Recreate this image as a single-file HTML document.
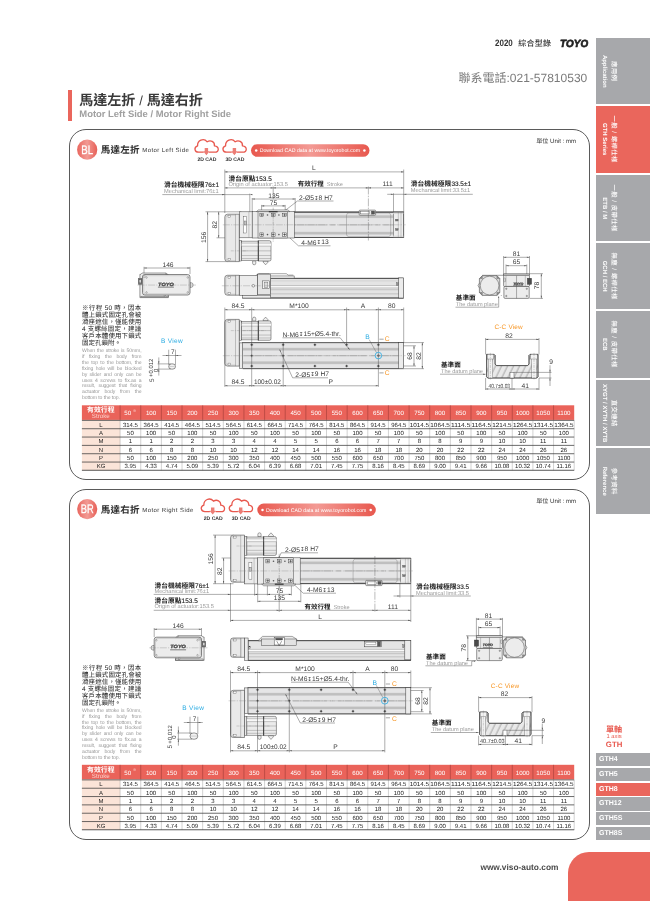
<!DOCTYPE html><html lang="zh-Hant"><head><meta charset="utf-8"><title>馬達左折 / 馬達右折</title><style>
*{margin:0;padding:0;box-sizing:border-box}
html,body{width:650px;height:901px;background:#fff;overflow:hidden}
body{position:relative;-webkit-font-smoothing:antialiased;text-rendering:geometricPrecision;font-family:"Liberation Sans","Noto Sans CJK TC",sans-serif;color:#333}
.abs{position:absolute;white-space:nowrap}
.panel{position:absolute;left:68.5px;width:521.5px;height:351px;border:1px solid #5a5a5a;border-radius:17px;background:#fff}
.sb{position:absolute;left:595.8px;width:55px;background:#a7a8ab}
.sb.red{background:#ea665c}
.sbt{position:absolute;white-space:nowrap;color:#fff;transform-origin:0 0;transform:rotate(90deg);text-align:center;line-height:1}
.g{position:absolute;left:595.8px;width:55px;height:13.1px;background:#a7a8ab;color:#fff;font-weight:bold;font-size:7.0px;line-height:13.4px;padding-left:3.3px}
.g.red{background:#ea665c}
.note-c{position:absolute;left:82px;width:59.3px;font-size:6.5px;line-height:7.05px;font-weight:400;color:#1a1a1a;text-align:justify;text-align-last:justify;font-family:"Liberation Sans","Noto Sans CJK TC",sans-serif}
.note-e{position:absolute;left:82px;width:59.5px;font-size:5.1px;line-height:5.88px;color:#9a9a9a;text-align:justify;letter-spacing:-0.1px}
.note-e div,.note-c div{text-align:justify;text-align-last:justify;white-space:nowrap}
.note-e div.l,.note-c div.l{text-align-last:left}
</style></head><body><div id="pg" style="position:absolute;left:0;top:0;width:650px;height:901px;overflow:hidden;will-change:transform;transform:translateZ(0)">
<div class="abs" style="left:495.3px;top:37.6px;font-size:9.2px;font-weight:bold;color:#333;line-height:10px;transform-origin:0 50%;transform:scaleX(0.87)">2020</div>
<div class="abs" style="left:518.2px;top:37.6px;font-size:8px;font-weight:500;color:#333;line-height:12px;letter-spacing:0.3px">綜合型錄</div>
<div class="abs" style="left:559.8px;top:38.6px;font-size:10.4px;font-weight:bold;font-style:italic;color:#222;line-height:12px;letter-spacing:0.2px;transform-origin:0 50%;transform:scaleX(0.945);-webkit-text-stroke:0.7px #222">TOYO</div>
<div class="abs" style="left:458.5px;top:68.5px;font-size:12px;color:#7a7a7a;line-height:18px">聯系電話:021-57810530</div>
<div class="abs" style="left:68.3px;top:90px;width:3.4px;height:30.6px;background:#ea665c"></div>
<div class="abs" style="left:79.3px;top:89.8px;font-size:14.0px;font-weight:bold;color:#3a3a3a;line-height:20px">馬達左折 <span style="font-size:13px;font-weight:normal;position:relative;top:-0.3px">/</span> 馬達右折</div>
<div class="abs" style="left:79.3px;top:108.1px;font-size:9.43px;font-weight:bold;color:#a0a0a0;line-height:12px">Motor Left Side / Motor Right Side</div>
<div class="sb" style="top:38.00px;height:66.45px"></div>
<div class="sbt" style="left:617.3px;top:38.00px;width:66.45px;font-size:6.35px;letter-spacing:0.45px;height:8px;line-height:8px;font-weight:500">應用例</div>
<div class="sbt" style="left:607.4px;top:38.00px;width:66.45px;font-size:6px;height:7px;line-height:7px;font-weight:bold">Application</div>
<div class="sb red" style="top:106.33px;height:66.45px"></div>
<div class="sbt" style="left:617.3px;top:106.33px;width:66.45px;font-size:6.35px;letter-spacing:0.45px;height:8px;line-height:8px;font-weight:500">一般 / 螺桿仕樣</div>
<div class="sbt" style="left:607.4px;top:106.33px;width:66.45px;font-size:6px;height:7px;line-height:7px;font-weight:bold">GTH Series</div>
<div class="sb" style="top:174.66px;height:66.45px"></div>
<div class="sbt" style="left:617.3px;top:174.66px;width:66.45px;font-size:6.35px;letter-spacing:0.45px;height:8px;line-height:8px;font-weight:500">一般 / 皮帶仕樣</div>
<div class="sbt" style="left:607.4px;top:174.66px;width:66.45px;font-size:6px;height:7px;line-height:7px;font-weight:bold">ETB / M</div>
<div class="sb" style="top:242.99px;height:66.45px"></div>
<div class="sbt" style="left:617.3px;top:242.99px;width:66.45px;font-size:6.35px;letter-spacing:0.45px;height:8px;line-height:8px;font-weight:500">無塵 / 螺桿仕樣</div>
<div class="sbt" style="left:607.4px;top:242.99px;width:66.45px;font-size:6px;height:7px;line-height:7px;font-weight:bold">GCH / ECH</div>
<div class="sb" style="top:311.32px;height:66.45px"></div>
<div class="sbt" style="left:617.3px;top:311.32px;width:66.45px;font-size:6.35px;letter-spacing:0.45px;height:8px;line-height:8px;font-weight:500">無塵 / 皮帶仕樣</div>
<div class="sbt" style="left:607.4px;top:311.32px;width:66.45px;font-size:6px;height:7px;line-height:7px;font-weight:bold">ECB</div>
<div class="sb" style="top:379.65px;height:66.45px"></div>
<div class="sbt" style="left:617.3px;top:379.65px;width:66.45px;font-size:6.35px;letter-spacing:0.45px;height:8px;line-height:8px;font-weight:500">直交連結</div>
<div class="sbt" style="left:607.4px;top:379.65px;width:66.45px;font-size:6px;height:7px;line-height:7px;font-weight:bold">XYGT / XYTH / XYTB</div>
<div class="sb" style="top:447.98px;height:66.45px"></div>
<div class="sbt" style="left:617.3px;top:447.98px;width:66.45px;font-size:6.35px;letter-spacing:0.45px;height:8px;line-height:8px;font-weight:500">參考資料</div>
<div class="sbt" style="left:607.4px;top:447.98px;width:66.45px;font-size:6px;height:7px;line-height:7px;font-weight:bold">Reference</div>
<div class="abs" style="left:595.8px;width:36.5px;top:725.4px;text-align:center;color:#e8584e;font-weight:bold;font-size:8.1px;line-height:10px">單軸</div>
<div class="abs" style="left:595.8px;width:36.5px;top:733px;text-align:center;color:#e8584e;font-size:5.8px;line-height:8px">1 axis</div>
<div class="abs" style="left:595.8px;width:36.5px;top:739.8px;text-align:center;color:#e8584e;font-weight:bold;font-size:7.8px;line-height:10px">GTH</div>
<div class="g" style="top:753.30px">GTH4</div>
<div class="g" style="top:768.02px">GTH5</div>
<div class="g red" style="top:782.74px">GTH8</div>
<div class="g" style="top:797.46px">GTH12</div>
<div class="g" style="top:812.18px">GTH5S</div>
<div class="g" style="top:826.90px">GTH8S</div>
<div class="abs" style="left:568.3px;top:852px;width:90px;height:60px;background:#ea665c;border-top-left-radius:21px"></div>
<div class="abs" style="left:480.4px;top:861.6px;font-size:8.35px;font-weight:bold;color:#4a4a4a;line-height:10px">www.viso-auto.com</div>
<div class="panel" style="top:128.8px"></div>
<div class="panel" style="top:488.8px"></div>
<div class="note-c" style="top:305.2px"><div>※行程 50 時，因本</div><div>體上鎖式固定孔會被</div><div>滑座遮住，僅能使用</div><div>4 支螺絲固定，建議</div><div>客戶本體使用下鎖式</div><div class="l">固定孔鎖附。</div></div>
<div class="note-e" style="top:349.2px"><div>When the stroke is 50mm,</div><div>if fixing the body from</div><div>the top to the bottom, the</div><div>fixing hole will be blocked</div><div>by slider and only can be</div><div>uses 4 screws to fix.as a</div><div>result, suggest that fixing</div><div>actuator body from the</div><div class="l">bottom to the top.</div></div>
<div class="note-c" style="top:664.8px"><div>※行程 50 時，因本</div><div>體上鎖式固定孔會被</div><div>滑座遮住，僅能使用</div><div>4 支螺絲固定，建議</div><div>客戶本體使用下鎖式</div><div class="l">固定孔鎖附。</div></div>
<div class="note-e" style="top:708.8px"><div>When the stroke is 50mm,</div><div>if fixing the body from</div><div>the top to the bottom, the</div><div>fixing hole will be blocked</div><div>by slider and only can be</div><div>uses 4 screws to fix.as a</div><div>result, suggest that fixing</div><div>actuator body from the</div><div class="l">bottom to the top.</div></div>
<svg width="650" height="901" viewBox="0 0 650 901" style="position:absolute;left:0;top:0" text-rendering="geometricPrecision" font-family="'Liberation Sans','Noto Sans CJK TC',sans-serif">
<defs><linearGradient id="gcirc" x1="0" x2="1" y1="0" y2="0"><stop offset="0" stop-color="#e9665e"/><stop offset="0.5" stop-color="#f29a94"/><stop offset="1" stop-color="#e75f56"/></linearGradient><linearGradient id="gpill" x1="0" x2="1" y1="0" y2="0"><stop offset="0" stop-color="#e8584e"/><stop offset="0.5" stop-color="#f39a94"/><stop offset="1" stop-color="#e8584e"/></linearGradient></defs>
<circle cx="87.2" cy="149.70" r="10.1" fill="url(#gcirc)"/>
<text x="87.20" y="154.00" font-size="12.30" text-anchor="middle" font-weight="normal" fill="#fff" textLength="11.8" lengthAdjust="spacingAndGlyphs" stroke="#fff" stroke-width="0.25">BL</text>
<text x="100.80" y="153.20" font-size="9.50" text-anchor="start" font-weight="bold" fill="#2a2a2a" letter-spacing="0.25" >馬達左折</text>
<text x="142.30" y="152.30" font-size="6.00" text-anchor="start" font-weight="normal" fill="#333" letter-spacing="0.42" >Motor Left Side</text>
<path d="M203.20 152.20 H198.60 C194.60 152.20 193.40 147.20 197.60 145.80 C197.20 140.40 203.60 137.40 207.20 141.80 C210.40 139.60 215.00 141.60 214.40 145.80 C219.60 146.40 219.40 152.20 214.60 152.20 H209.60" fill="none" stroke="#e8584e" stroke-width="1.30" stroke-linejoin="round" stroke-linecap="round"/>
<path d="M204.70 148.00 h3.4 v3.3 h1.5 l-3.2 3.9 l-3.2 -3.9 h1.5 z" fill="#ec7d75"/>
<text x="206.90" y="160.60" font-size="5.10" text-anchor="middle" font-weight="bold" fill="#333" >2D CAD</text>
<path d="M231.20 152.20 H226.60 C222.60 152.20 221.40 147.20 225.60 145.80 C225.20 140.40 231.60 137.40 235.20 141.80 C238.40 139.60 243.00 141.60 242.40 145.80 C247.60 146.40 247.40 152.20 242.60 152.20 H237.60" fill="none" stroke="#e8584e" stroke-width="1.30" stroke-linejoin="round" stroke-linecap="round"/>
<path d="M232.70 148.00 h3.4 v3.3 h1.5 l-3.2 3.9 l-3.2 -3.9 h1.5 z" fill="#ec7d75"/>
<text x="234.90" y="160.60" font-size="5.10" text-anchor="middle" font-weight="bold" fill="#333" >3D CAD</text>
<rect x="251.00" y="144.20" width="118.5" height="12.6" rx="6.3" fill="url(#gpill)"/>
<circle cx="256.20" cy="150.50" r="1.25" fill="#fff" stroke="none" stroke-width="0.00"/>
<circle cx="364.40" cy="150.50" r="1.25" fill="#fff" stroke="none" stroke-width="0.00"/>
<text x="309.90" y="152.30" font-size="5.25" text-anchor="middle" font-weight="normal" fill="#fff" textLength="100.5" lengthAdjust="spacingAndGlyphs">Download CAD data at www.toyorobot.com</text>
<text x="576.20" y="143.30" font-size="6.10" text-anchor="end" font-weight="normal" fill="#333" >單位 Unit : mm</text>
<line x1="224.80" y1="169.50" x2="224.80" y2="213.00" stroke="#4a4a4a" stroke-width="0.45"/>
<line x1="403.70" y1="169.50" x2="403.70" y2="212.00" stroke="#4a4a4a" stroke-width="0.45"/>
<line x1="224.80" y1="171.90" x2="403.70" y2="171.90" stroke="#4a4a4a" stroke-width="0.45"/>
<polygon points="224.80,171.90 227.40,171.35 227.40,172.45" fill="#4a4a4a"/>
<polygon points="403.70,171.90 401.10,172.45 401.10,171.35" fill="#4a4a4a"/>
<text x="313.80" y="170.40" font-size="6.70" text-anchor="middle" font-weight="normal" fill="#3a3a3a" >L</text>
<line x1="224.80" y1="187.90" x2="403.70" y2="187.90" stroke="#4a4a4a" stroke-width="0.45"/>
<polygon points="224.80,187.90 227.40,187.35 227.40,188.45" fill="#4a4a4a"/>
<polygon points="273.20,187.90 270.60,188.45 270.60,187.35" fill="#4a4a4a"/>
<polygon points="273.20,187.90 275.80,187.35 275.80,188.45" fill="#4a4a4a"/>
<polygon points="368.40,187.90 365.80,188.45 365.80,187.35" fill="#4a4a4a"/>
<polygon points="368.40,187.90 371.00,187.35 371.00,188.45" fill="#4a4a4a"/>
<polygon points="403.70,187.90 401.10,188.45 401.10,187.35" fill="#4a4a4a"/>
<line x1="273.20" y1="186.50" x2="273.20" y2="199.00" stroke="#4a4a4a" stroke-width="0.45"/>
<text x="228.40" y="180.70" font-size="6.75" text-anchor="start" font-weight="bold" fill="#222" >滑台原點<tspan font-size="6.45" font-weight="normal" stroke="#222" stroke-width="0.12" dx="0.2">153.5</tspan></text>
<text x="228.40" y="185.90" font-size="5.70" text-anchor="start" font-weight="normal" fill="#9a9a9a" >Origin of actuator:153.5</text>
<text x="297.80" y="186.00" font-size="6.50" text-anchor="start" font-weight="bold" fill="#222" >有效行程</text>
<text x="326.80" y="186.00" font-size="5.55" text-anchor="start" font-weight="normal" fill="#9a9a9a" >Stroke</text>
<text x="387.60" y="185.90" font-size="6.70" text-anchor="middle" font-weight="normal" fill="#3a3a3a" >111</text>
<text x="164.00" y="186.70" font-size="6.75" text-anchor="start" font-weight="bold" fill="#222" >滑台機械極限<tspan font-size="6.45" font-weight="normal" stroke="#222" stroke-width="0.12" dx="0.2">76±1</tspan></text>
<text x="164.00" y="192.80" font-size="5.70" text-anchor="start" font-weight="normal" fill="#9a9a9a" >Mechanical limit:76±1</text>
<line x1="162.30" y1="194.60" x2="249.80" y2="194.60" stroke="#4a4a4a" stroke-width="0.45"/>
<polygon points="224.80,194.60 222.20,195.15 222.20,194.05" fill="#4a4a4a"/>
<polygon points="249.80,194.60 252.40,194.05 252.40,195.15" fill="#4a4a4a"/>
<line x1="249.80" y1="193.60" x2="249.80" y2="236.00" stroke="#4a4a4a" stroke-width="0.45"/>
<text x="410.70" y="186.20" font-size="6.75" text-anchor="start" font-weight="bold" fill="#222" >滑台機械極限<tspan font-size="6.45" font-weight="normal" stroke="#222" stroke-width="0.12" dx="0.2">33.5±1</tspan></text>
<text x="410.70" y="192.30" font-size="5.70" text-anchor="start" font-weight="normal" fill="#9a9a9a" >Mechanical limit:33.5±1</text>
<line x1="387.20" y1="194.30" x2="472.80" y2="194.30" stroke="#4a4a4a" stroke-width="0.45"/>
<polygon points="393.50,194.30 390.90,194.85 390.90,193.75" fill="#4a4a4a"/>
<polygon points="403.70,194.30 406.30,193.75 406.30,194.85" fill="#4a4a4a"/>
<line x1="393.50" y1="193.30" x2="393.50" y2="213.00" stroke="#4a4a4a" stroke-width="0.45"/>
<text x="273.80" y="198.00" font-size="6.70" text-anchor="middle" font-weight="normal" fill="#3a3a3a" >135</text>
<line x1="252.20" y1="199.00" x2="295.20" y2="199.00" stroke="#4a4a4a" stroke-width="0.45"/>
<polygon points="252.20,199.00 254.80,198.45 254.80,199.55" fill="#4a4a4a"/>
<polygon points="295.20,199.00 292.60,199.55 292.60,198.45" fill="#4a4a4a"/>
<line x1="252.20" y1="198.00" x2="252.20" y2="236.00" stroke="#4a4a4a" stroke-width="0.45"/>
<line x1="295.20" y1="198.00" x2="295.20" y2="213.00" stroke="#4a4a4a" stroke-width="0.45"/>
<text x="273.60" y="204.90" font-size="6.70" text-anchor="middle" font-weight="normal" fill="#3a3a3a" >75</text>
<line x1="261.60" y1="205.90" x2="285.20" y2="205.90" stroke="#4a4a4a" stroke-width="0.45"/>
<polygon points="261.60,205.90 264.20,205.35 264.20,206.45" fill="#4a4a4a"/>
<polygon points="285.20,205.90 282.60,206.45 282.60,205.35" fill="#4a4a4a"/>
<line x1="261.60" y1="204.90" x2="261.60" y2="214.00" stroke="#4a4a4a" stroke-width="0.45"/>
<line x1="285.20" y1="204.90" x2="285.20" y2="214.00" stroke="#4a4a4a" stroke-width="0.45"/>
<text x="299.00" y="199.70" font-size="6.70" text-anchor="start" font-weight="normal" fill="#3a3a3a" >2-Ø5<tspan font-family="'DejaVu Sans',sans-serif" font-size="5.6" dy="-0.2">↧</tspan><tspan dy="0.2"></tspan>8 H7</text>
<line x1="297.40" y1="201.00" x2="333.50" y2="201.00" stroke="#4a4a4a" stroke-width="0.45"/>
<line x1="297.40" y1="201.00" x2="276.00" y2="217.60" stroke="#4a4a4a" stroke-width="0.45"/>
<polygon points="276.00,217.60 277.46,215.90 278.01,216.61" fill="#4a4a4a"/>
<text x="301.30" y="244.60" font-size="6.70" text-anchor="start" font-weight="normal" fill="#3a3a3a" >4-M6<tspan font-family="'DejaVu Sans',sans-serif" font-size="5.6" dy="-0.2">↧</tspan><tspan dy="0.2"></tspan>13</text>
<line x1="298.40" y1="245.80" x2="330.50" y2="245.80" stroke="#4a4a4a" stroke-width="0.45"/>
<line x1="298.40" y1="245.80" x2="284.60" y2="233.00" stroke="#4a4a4a" stroke-width="0.45"/>
<polygon points="284.60,233.00 286.52,234.17 285.91,234.83" fill="#4a4a4a"/>
<line x1="216.50" y1="211.80" x2="241.30" y2="211.80" stroke="#4a4a4a" stroke-width="0.45"/>
<line x1="216.50" y1="237.80" x2="225.80" y2="237.80" stroke="#4a4a4a" stroke-width="0.45"/>
<line x1="218.70" y1="211.80" x2="218.70" y2="237.80" stroke="#4a4a4a" stroke-width="0.45"/>
<polygon points="218.70,211.80 219.25,214.40 218.15,214.40" fill="#4a4a4a"/>
<polygon points="218.70,237.80 218.15,235.20 219.25,235.20" fill="#4a4a4a"/>
<text x="216.60" y="224.80" font-size="6.70" text-anchor="middle" font-weight="normal" fill="#3a3a3a" transform="rotate(-90 216.60 224.80)" >82</text>
<line x1="205.50" y1="211.80" x2="216.50" y2="211.80" stroke="#4a4a4a" stroke-width="0.45"/>
<line x1="205.50" y1="261.60" x2="227.80" y2="261.60" stroke="#4a4a4a" stroke-width="0.45"/>
<line x1="207.60" y1="211.80" x2="207.60" y2="261.60" stroke="#4a4a4a" stroke-width="0.45"/>
<polygon points="207.60,211.80 208.15,214.40 207.05,214.40" fill="#4a4a4a"/>
<polygon points="207.60,261.60 207.05,259.00 208.15,259.00" fill="#4a4a4a"/>
<text x="205.70" y="237.40" font-size="6.70" text-anchor="middle" font-weight="normal" fill="#3a3a3a" transform="rotate(-90 205.70 237.40)" >156</text>
<rect x="293.30" y="212.10" width="110.40" height="25.40" fill="#e5e5e6" stroke="#3a3a3a" stroke-width="0.50"/>
<rect x="293.30" y="215.67" width="110.40" height="2.00" fill="#c2c2c2" stroke="none" stroke-width="0.00"/>
<line x1="293.30" y1="215.67" x2="403.70" y2="215.67" stroke="#999" stroke-width="0.25"/>
<line x1="293.30" y1="217.67" x2="403.70" y2="217.67" stroke="#999" stroke-width="0.25"/>
<rect x="293.30" y="232.18" width="110.40" height="2.00" fill="#c2c2c2" stroke="none" stroke-width="0.00"/>
<line x1="293.30" y1="232.18" x2="403.70" y2="232.18" stroke="#999" stroke-width="0.25"/>
<line x1="293.30" y1="234.18" x2="403.70" y2="234.18" stroke="#999" stroke-width="0.25"/>
<line x1="293.30" y1="224.80" x2="403.70" y2="224.80" stroke="#c4c4c4" stroke-width="1.20" stroke-dasharray="34 3 5 3"/>
<line x1="293.30" y1="212.10" x2="403.70" y2="212.10" stroke="#505050" stroke-width="0.80"/>
<line x1="293.30" y1="237.50" x2="403.70" y2="237.50" stroke="#505050" stroke-width="0.80"/>
<rect x="346.50" y="213.00" width="44.20" height="23.60" fill="none" stroke="#777" stroke-width="0.40" rx="2.40"/>
<rect x="393.30" y="212.10" width="10.40" height="25.40" fill="#eeeeee" stroke="#3a3a3a" stroke-width="0.45"/>
<rect x="393.30" y="212.10" width="10.40" height="1.90" fill="#dcdcdc" stroke="none" stroke-width="0.00"/>
<rect x="393.30" y="235.60" width="10.40" height="1.90" fill="#dcdcdc" stroke="none" stroke-width="0.00"/>
<line x1="398.30" y1="212.10" x2="398.30" y2="237.50" stroke="#777" stroke-width="0.35"/>
<line x1="401.00" y1="212.10" x2="401.00" y2="237.50" stroke="#777" stroke-width="0.35"/>
<rect x="395.50" y="219.20" width="2.60" height="1.80" fill="#777" stroke="#444" stroke-width="0.30"/>
<rect x="395.50" y="228.60" width="2.60" height="1.80" fill="#777" stroke="#444" stroke-width="0.30"/>
<line x1="294.30" y1="212.10" x2="403.70" y2="212.10" stroke="#505050" stroke-width="0.80"/>
<line x1="294.30" y1="237.50" x2="403.70" y2="237.50" stroke="#505050" stroke-width="0.80"/>
<line x1="403.70" y1="211.80" x2="403.70" y2="237.80" stroke="#444" stroke-width="0.50"/>
<rect x="359.20" y="210.10" width="16.40" height="5.20" fill="#e8e8e8" stroke="#3a3a3a" stroke-width="0.50" rx="0.80"/>
<rect x="360.80" y="211.60" width="8.80" height="2.30" fill="#fff" stroke="#3a3a3a" stroke-width="0.35"/>
<rect x="371.40" y="211.10" width="3.20" height="3.00" fill="#555" stroke="#3a3a3a" stroke-width="0.30"/>
<rect x="239.30" y="211.80" width="12.90" height="26.00" fill="#ececec" stroke="#3a3a3a" stroke-width="0.50"/>
<rect x="243.70" y="216.60" width="3.00" height="16.40" fill="#fff" stroke="#3a3a3a" stroke-width="0.35"/>
<rect x="244.30" y="221.00" width="1.80" height="4.00" fill="#ccc" stroke="#3a3a3a" stroke-width="0.30"/>
<line x1="248.90" y1="211.80" x2="248.90" y2="237.80" stroke="#777" stroke-width="0.35"/>
<rect x="252.20" y="211.60" width="42.10" height="26.40" fill="#ececec" stroke="#3a3a3a" stroke-width="0.50"/>
<rect x="258.00" y="211.60" width="29.70" height="26.40" fill="#e4e4e4" stroke="#3a3a3a" stroke-width="0.45"/>
<rect x="259.90" y="213.30" width="3.80" height="3.40" fill="#fff" stroke="#333" stroke-width="0.45"/>
<line x1="260.40" y1="215.00" x2="263.20" y2="215.00" stroke="#222" stroke-width="0.60"/>
<line x1="261.80" y1="213.70" x2="261.80" y2="216.30" stroke="#222" stroke-width="0.60"/>
<rect x="271.30" y="213.30" width="3.80" height="3.40" fill="#fff" stroke="#333" stroke-width="0.45"/>
<line x1="271.80" y1="215.00" x2="274.60" y2="215.00" stroke="#222" stroke-width="0.60"/>
<line x1="273.20" y1="213.70" x2="273.20" y2="216.30" stroke="#222" stroke-width="0.60"/>
<rect x="282.70" y="213.30" width="3.80" height="3.40" fill="#fff" stroke="#333" stroke-width="0.45"/>
<line x1="283.20" y1="215.00" x2="286.00" y2="215.00" stroke="#222" stroke-width="0.60"/>
<line x1="284.60" y1="213.70" x2="284.60" y2="216.30" stroke="#222" stroke-width="0.60"/>
<circle cx="267.50" cy="215.00" r="0.80" fill="#555" stroke="none" stroke-width="0.00"/>
<circle cx="278.90" cy="215.00" r="0.80" fill="#555" stroke="none" stroke-width="0.00"/>
<rect x="259.90" y="232.90" width="3.80" height="3.40" fill="#fff" stroke="#333" stroke-width="0.45"/>
<line x1="260.40" y1="234.60" x2="263.20" y2="234.60" stroke="#222" stroke-width="0.60"/>
<line x1="261.80" y1="233.30" x2="261.80" y2="235.90" stroke="#222" stroke-width="0.60"/>
<rect x="271.30" y="232.90" width="3.80" height="3.40" fill="#fff" stroke="#333" stroke-width="0.45"/>
<line x1="271.80" y1="234.60" x2="274.60" y2="234.60" stroke="#222" stroke-width="0.60"/>
<line x1="273.20" y1="233.30" x2="273.20" y2="235.90" stroke="#222" stroke-width="0.60"/>
<rect x="282.70" y="232.90" width="3.80" height="3.40" fill="#fff" stroke="#333" stroke-width="0.45"/>
<line x1="283.20" y1="234.60" x2="286.00" y2="234.60" stroke="#222" stroke-width="0.60"/>
<line x1="284.60" y1="233.30" x2="284.60" y2="235.90" stroke="#222" stroke-width="0.60"/>
<circle cx="267.50" cy="234.60" r="0.80" fill="#555" stroke="none" stroke-width="0.00"/>
<circle cx="278.90" cy="234.60" r="0.80" fill="#555" stroke="none" stroke-width="0.00"/>
<line x1="273.20" y1="207.60" x2="273.20" y2="242.00" stroke="#555" stroke-width="0.35" stroke-dasharray="4 1 1 1"/>
<path d="M256.40 211.60 L258.40 209.90 H287.90 L289.90 211.60 Z" fill="#ececec" stroke="#3a3a3a" stroke-width="0.45" stroke-linejoin="round" />
<rect x="268.80" y="211.10" width="8.80" height="1.20" fill="#333" stroke="none" stroke-width="0.00"/>
<path d="M252.60 261.00 v2.20 q0 1.60 1.6 1.60 q1.6 0 1.6 -1.60 v-2.20 z" fill="#f0f0f0" stroke="#3a3a3a" stroke-width="0.45" stroke-linejoin="round" />
<path d="M263.21 261.00 v1.20 l2.4 2.60 l2.4 -2.60 v-1.20 z" fill="#f0f0f0" stroke="#3a3a3a" stroke-width="0.45" stroke-linejoin="round" />
<rect x="239.30" y="240.70" width="2.40" height="20.30" fill="#e9e9e9" stroke="#3a3a3a" stroke-width="0.45"/>
<rect x="241.70" y="241.10" width="16.62" height="19.50" fill="#ebebeb" stroke="#3a3a3a" stroke-width="0.45"/>
<path d="M258.32 240.70 H269.40 Q271.00 240.70 271.00 242.30 V259.40 Q271.00 261.00 269.40 261.00 H258.32 Z" fill="#ebebeb" stroke="#3a3a3a" stroke-width="0.50" stroke-linejoin="round" />
<rect x="241.70" y="243.14" width="29.30" height="3.04" fill="#f8f8f8" stroke="none" stroke-width="0.00"/>
<line x1="241.70" y1="243.14" x2="271.00" y2="243.14" stroke="#7a7a7a" stroke-width="0.40"/>
<line x1="241.70" y1="246.18" x2="271.00" y2="246.18" stroke="#7a7a7a" stroke-width="0.40"/>
<line x1="241.70" y1="250.85" x2="271.00" y2="250.85" stroke="#7a7a7a" stroke-width="0.40"/>
<line x1="241.70" y1="255.52" x2="271.00" y2="255.52" stroke="#7a7a7a" stroke-width="0.40"/>
<line x1="241.70" y1="258.56" x2="271.00" y2="258.56" stroke="#7a7a7a" stroke-width="0.40"/>
<line x1="258.32" y1="240.50" x2="258.32" y2="261.20" stroke="#3a3a3a" stroke-width="0.90"/>
<path d="M239.30 214.20 H227.60 Q224.80 214.20 224.80 217.00 V258.80 Q224.80 261.60 227.60 261.60 H239.30 Z" fill="#e9e9e9" stroke="#3a3a3a" stroke-width="0.55" stroke-linejoin="round" />
<path d="M235.50 215.20 H228.60 Q225.80 215.20 225.80 218.00 V257.80 Q225.80 260.60 228.60 260.60 H235.50" fill="none" stroke="#8a8a8a" stroke-width="0.30" stroke-linejoin="round" />
<rect x="228.00" y="215.20" width="2.40" height="2.00" fill="#f6f6f6" stroke="#555" stroke-width="0.35"/>
<rect x="228.00" y="258.60" width="2.40" height="2.00" fill="#f6f6f6" stroke="#555" stroke-width="0.35"/>
<line x1="235.50" y1="214.20" x2="235.50" y2="261.60" stroke="#666" stroke-width="0.35"/>
<line x1="222.80" y1="224.80" x2="405.70" y2="224.80" stroke="#858585" stroke-width="0.35" stroke-dasharray="7 1.2 1.2 1.2"/>
<line x1="230.80" y1="250.85" x2="247.30" y2="250.85" stroke="#777" stroke-width="0.30" stroke-dasharray="3 1 1 1"/>
<line x1="368.40" y1="186.50" x2="368.40" y2="240.50" stroke="#555" stroke-width="0.40" stroke-dasharray="8 1.2 1.5 1.2"/>
<text x="168.00" y="266.60" font-size="6.70" text-anchor="middle" font-weight="normal" fill="#3a3a3a" >146</text>
<line x1="144.00" y1="268.00" x2="190.00" y2="268.00" stroke="#4a4a4a" stroke-width="0.45"/>
<polygon points="144.00,268.00 146.60,267.45 146.60,268.55" fill="#4a4a4a"/>
<polygon points="190.00,268.00 187.40,268.55 187.40,267.45" fill="#4a4a4a"/>
<line x1="144.00" y1="266.80" x2="144.00" y2="274.00" stroke="#4a4a4a" stroke-width="0.45"/>
<line x1="190.00" y1="266.80" x2="190.00" y2="274.00" stroke="#4a4a4a" stroke-width="0.45"/>
<g>
<path d="M139.90 297.60 V274.30 H140.90 L142.10 273.00 V273.00 H166.00 V274.80 H168.30 V297.60 H139.90 Z" fill="#ededed" stroke="#3a3a3a" stroke-width="0.50" stroke-linejoin="round" />
<line x1="166.00" y1="273.00" x2="168.30" y2="274.80" stroke="#4a4a4a" stroke-width="0.45"/>
<rect x="140.90" y="296.20" width="27.40" height="1.40" fill="#e2e2e2" stroke="#3a3a3a" stroke-width="0.45"/>
<rect x="164.10" y="294.60" width="1.60" height="1.80" fill="#fff" stroke="#3a3a3a" stroke-width="0.35"/>
<rect x="138.30" y="278.50" width="3.60" height="5.80" fill="#777" stroke="#333" stroke-width="0.35"/>
<rect x="139.10" y="279.70" width="2.00" height="3.20" fill="#ddd" stroke="#333" stroke-width="0.30"/>
<path d="M190.00 282.75 h1.2 q1.9 0 1.9 2.3 q0 2.3 -1.9 2.3 h-1.2 z" fill="#ededed" stroke="#3a3a3a" stroke-width="0.45" stroke-linejoin="round" />
<rect x="142.50" y="274.50" width="47.50" height="20.50" fill="#ececec" stroke="#3a3a3a" stroke-width="0.60" rx="2.40"/>
<rect x="143.80" y="275.70" width="44.90" height="18.10" fill="none" stroke="#8a8a8a" stroke-width="0.30" rx="1.80"/>
<circle cx="146.50" cy="277.50" r="0.75" fill="#fff" stroke="#444" stroke-width="0.35"/>
<circle cx="187.80" cy="277.50" r="0.75" fill="#fff" stroke="#444" stroke-width="0.35"/>
<circle cx="146.50" cy="292.40" r="0.75" fill="#fff" stroke="#444" stroke-width="0.35"/>
<circle cx="187.80" cy="292.40" r="0.75" fill="#fff" stroke="#444" stroke-width="0.35"/>
<circle cx="144.10" cy="276.30" r="1.10" fill="#eee" stroke="#444" stroke-width="0.35"/>
<rect x="157.70" y="281.65" width="16.40" height="6.40" fill="#f6f6f6" stroke="none" stroke-width="0.00"/>
<text x="165.90" y="285.65" font-size="4.6" font-weight="bold" font-style="italic" text-anchor="middle" fill="#444" stroke="#444" stroke-width="0.35" textLength="15.6" lengthAdjust="spacingAndGlyphs">TOYO</text>
<rect x="157.90" y="286.65" width="16.00" height="0.90" fill="#666" stroke="none" stroke-width="0.00"/>
</g>
<line x1="137.50" y1="285.05" x2="196.00" y2="285.05" stroke="#858585" stroke-width="0.35" stroke-dasharray="7 1.2 1.2 1.2"/>
<rect x="270.60" y="278.30" width="133.10" height="19.70" fill="#e4e4e4" stroke="#3a3a3a" stroke-width="0.55"/>
<line x1="270.60" y1="286.77" x2="398.70" y2="286.77" stroke="#fbfbfb" stroke-width="1.60"/>
<line x1="270.60" y1="285.59" x2="398.70" y2="285.59" stroke="#808080" stroke-width="0.35"/>
<line x1="270.60" y1="287.95" x2="398.70" y2="287.95" stroke="#808080" stroke-width="0.35"/>
<line x1="270.60" y1="289.73" x2="398.70" y2="289.73" stroke="#808080" stroke-width="0.35"/>
<line x1="270.60" y1="293.86" x2="398.70" y2="293.86" stroke="#808080" stroke-width="0.35"/>
<line x1="270.60" y1="280.86" x2="398.70" y2="280.86" stroke="#aaa" stroke-width="0.30"/>
<line x1="270.60" y1="278.30" x2="403.70" y2="278.30" stroke="#444" stroke-width="0.90"/>
<line x1="242.30" y1="298.00" x2="403.70" y2="298.00" stroke="#444" stroke-width="0.90"/>
<rect x="398.70" y="277.90" width="5.00" height="20.10" fill="#ececec" stroke="#3a3a3a" stroke-width="0.50"/>
<rect x="396.50" y="282.80" width="1.60" height="2.50" fill="#999" stroke="#3a3a3a" stroke-width="0.30"/>
<path d="M255.30 275.60 L259.20 273.70 H286.30 L288.30 275.10 H293.30" fill="none" stroke="#3a3a3a" stroke-width="0.45" stroke-linejoin="round" />
<path d="M257.70 274.10 H268.70 L270.70 275.90 H294.30 V278.30 H257.70 Z" fill="#ececec" stroke="#3a3a3a" stroke-width="0.45" stroke-linejoin="round" />
<rect x="239.30" y="275.30" width="18.40" height="20.10" fill="#ececec" stroke="#3a3a3a" stroke-width="0.50"/>
<rect x="242.30" y="295.40" width="28.30" height="2.60" fill="#ececec" stroke="#3a3a3a" stroke-width="0.45"/>
<rect x="257.70" y="274.10" width="12.90" height="20.30" fill="#e4e4e4" stroke="#3a3a3a" stroke-width="0.50"/>
<rect x="262.70" y="280.90" width="6.60" height="7.60" fill="#fff" stroke="#3a3a3a" stroke-width="0.45"/>
<rect x="264.10" y="282.10" width="3.80" height="5.20" fill="#ddd" stroke="#3a3a3a" stroke-width="0.35"/>
<circle cx="253.30" cy="285.75" r="1.30" fill="#fff" stroke="#3a3a3a" stroke-width="0.45"/>
<path d="M239.30 275.30 H227.40 Q224.80 275.30 224.80 277.90 V292.60 Q224.80 295.20 227.40 295.20 H239.30 Z" fill="#e9e9e9" stroke="#3a3a3a" stroke-width="0.55" stroke-linejoin="round" />
<path d="M235.50 276.30 H228.40 Q225.80 276.30 225.80 278.90 V291.60 Q225.80 294.20 228.40 294.20 H235.50" fill="none" stroke="#8a8a8a" stroke-width="0.30" stroke-linejoin="round" />
<rect x="228.00" y="276.30" width="2.40" height="2.00" fill="#f6f6f6" stroke="#555" stroke-width="0.35"/>
<rect x="228.00" y="292.20" width="2.40" height="2.00" fill="#f6f6f6" stroke="#555" stroke-width="0.35"/>
<line x1="235.50" y1="275.30" x2="235.50" y2="295.20" stroke="#666" stroke-width="0.35"/>
<line x1="235.70" y1="275.30" x2="235.70" y2="295.20" stroke="#777" stroke-width="0.35"/>
<line x1="221.80" y1="285.75" x2="269.70" y2="285.75" stroke="#858585" stroke-width="0.35" stroke-dasharray="7 1.2 1.2 1.2"/>
<rect x="242.70" y="342.70" width="161.00" height="26.00" fill="#e5e5e6" stroke="#3a3a3a" stroke-width="0.50"/>
<rect x="242.70" y="348.20" width="161.00" height="2.00" fill="#c2c2c2" stroke="none" stroke-width="0.00"/>
<line x1="242.70" y1="348.20" x2="403.70" y2="348.20" stroke="#999" stroke-width="0.25"/>
<line x1="242.70" y1="350.20" x2="403.70" y2="350.20" stroke="#999" stroke-width="0.25"/>
<rect x="242.70" y="361.72" width="161.00" height="2.00" fill="#c2c2c2" stroke="none" stroke-width="0.00"/>
<line x1="242.70" y1="361.72" x2="403.70" y2="361.72" stroke="#999" stroke-width="0.25"/>
<line x1="242.70" y1="363.72" x2="403.70" y2="363.72" stroke="#999" stroke-width="0.25"/>
<line x1="242.70" y1="355.70" x2="403.70" y2="355.70" stroke="#c4c4c4" stroke-width="1.20" stroke-dasharray="34 3 5 3"/>
<line x1="242.70" y1="342.70" x2="403.70" y2="342.70" stroke="#505050" stroke-width="0.80"/>
<line x1="242.70" y1="368.70" x2="403.70" y2="368.70" stroke="#505050" stroke-width="0.80"/>
<rect x="398.70" y="342.70" width="5.00" height="26.00" fill="#ececec" stroke="#3a3a3a" stroke-width="0.50"/>
<rect x="239.30" y="342.90" width="3.40" height="25.60" fill="#ececec" stroke="#3a3a3a" stroke-width="0.50"/>
<path d="M252.60 320.90 v-2.20 q0 -1.60 1.6 -1.60 q1.6 0 1.6 1.60 v2.20 z" fill="#f0f0f0" stroke="#3a3a3a" stroke-width="0.45" stroke-linejoin="round" />
<path d="M263.21 320.90 v-1.20 l2.4 -2.60 l2.4 2.60 v1.20 z" fill="#f0f0f0" stroke="#3a3a3a" stroke-width="0.45" stroke-linejoin="round" />
<rect x="239.30" y="320.90" width="2.40" height="19.40" fill="#e9e9e9" stroke="#3a3a3a" stroke-width="0.45"/>
<rect x="241.70" y="321.30" width="16.62" height="18.60" fill="#ebebeb" stroke="#3a3a3a" stroke-width="0.45"/>
<path d="M258.32 320.90 H269.40 Q271.00 320.90 271.00 322.50 V338.70 Q271.00 340.30 269.40 340.30 H258.32 Z" fill="#ebebeb" stroke="#3a3a3a" stroke-width="0.50" stroke-linejoin="round" />
<rect x="241.70" y="323.23" width="29.30" height="2.91" fill="#f8f8f8" stroke="none" stroke-width="0.00"/>
<line x1="241.70" y1="323.23" x2="271.00" y2="323.23" stroke="#7a7a7a" stroke-width="0.40"/>
<line x1="241.70" y1="326.14" x2="271.00" y2="326.14" stroke="#7a7a7a" stroke-width="0.40"/>
<line x1="241.70" y1="330.60" x2="271.00" y2="330.60" stroke="#7a7a7a" stroke-width="0.40"/>
<line x1="241.70" y1="335.06" x2="271.00" y2="335.06" stroke="#7a7a7a" stroke-width="0.40"/>
<line x1="241.70" y1="337.97" x2="271.00" y2="337.97" stroke="#7a7a7a" stroke-width="0.40"/>
<line x1="258.32" y1="320.70" x2="258.32" y2="340.50" stroke="#3a3a3a" stroke-width="0.90"/>
<path d="M239.30 319.40 H227.60 Q224.80 319.40 224.80 322.20 V363.30 Q224.80 366.10 227.60 366.10 H239.30 Z" fill="#e9e9e9" stroke="#3a3a3a" stroke-width="0.55" stroke-linejoin="round" />
<path d="M235.50 320.40 H228.60 Q225.80 320.40 225.80 323.20 V362.30 Q225.80 365.10 228.60 365.10 H235.50" fill="none" stroke="#8a8a8a" stroke-width="0.30" stroke-linejoin="round" />
<rect x="228.00" y="320.40" width="2.40" height="2.00" fill="#f6f6f6" stroke="#555" stroke-width="0.35"/>
<rect x="228.00" y="363.10" width="2.40" height="2.00" fill="#f6f6f6" stroke="#555" stroke-width="0.35"/>
<line x1="235.50" y1="319.40" x2="235.50" y2="366.10" stroke="#666" stroke-width="0.35"/>
<line x1="222.80" y1="355.70" x2="405.70" y2="355.70" stroke="#858585" stroke-width="0.35" stroke-dasharray="7 1.2 1.2 1.2"/>
<line x1="230.80" y1="330.60" x2="265.30" y2="330.60" stroke="#777" stroke-width="0.30" stroke-dasharray="3 1 1 1"/>
<circle cx="251.70" cy="344.80" r="1.00" fill="#555" stroke="none" stroke-width="0.00"/>
<line x1="250.10" y1="344.80" x2="253.30" y2="344.80" stroke="#333" stroke-width="0.30"/>
<line x1="251.70" y1="343.20" x2="251.70" y2="346.40" stroke="#333" stroke-width="0.30"/>
<circle cx="251.70" cy="366.10" r="1.00" fill="#555" stroke="none" stroke-width="0.00"/>
<line x1="250.10" y1="366.10" x2="253.30" y2="366.10" stroke="#333" stroke-width="0.30"/>
<line x1="251.70" y1="364.50" x2="251.70" y2="367.70" stroke="#333" stroke-width="0.30"/>
<circle cx="283.20" cy="344.80" r="1.00" fill="#555" stroke="none" stroke-width="0.00"/>
<line x1="281.60" y1="344.80" x2="284.80" y2="344.80" stroke="#333" stroke-width="0.30"/>
<line x1="283.20" y1="343.20" x2="283.20" y2="346.40" stroke="#333" stroke-width="0.30"/>
<circle cx="283.20" cy="366.10" r="1.00" fill="#555" stroke="none" stroke-width="0.00"/>
<line x1="281.60" y1="366.10" x2="284.80" y2="366.10" stroke="#333" stroke-width="0.30"/>
<line x1="283.20" y1="364.50" x2="283.20" y2="367.70" stroke="#333" stroke-width="0.30"/>
<circle cx="314.90" cy="344.80" r="1.00" fill="#555" stroke="none" stroke-width="0.00"/>
<line x1="313.30" y1="344.80" x2="316.50" y2="344.80" stroke="#333" stroke-width="0.30"/>
<line x1="314.90" y1="343.20" x2="314.90" y2="346.40" stroke="#333" stroke-width="0.30"/>
<circle cx="314.90" cy="366.10" r="1.00" fill="#555" stroke="none" stroke-width="0.00"/>
<line x1="313.30" y1="366.10" x2="316.50" y2="366.10" stroke="#333" stroke-width="0.30"/>
<line x1="314.90" y1="364.50" x2="314.90" y2="367.70" stroke="#333" stroke-width="0.30"/>
<circle cx="346.60" cy="344.80" r="1.00" fill="#555" stroke="none" stroke-width="0.00"/>
<line x1="345.00" y1="344.80" x2="348.20" y2="344.80" stroke="#333" stroke-width="0.30"/>
<line x1="346.60" y1="343.20" x2="346.60" y2="346.40" stroke="#333" stroke-width="0.30"/>
<circle cx="346.60" cy="366.10" r="1.00" fill="#555" stroke="none" stroke-width="0.00"/>
<line x1="345.00" y1="366.10" x2="348.20" y2="366.10" stroke="#333" stroke-width="0.30"/>
<line x1="346.60" y1="364.50" x2="346.60" y2="367.70" stroke="#333" stroke-width="0.30"/>
<circle cx="378.40" cy="344.80" r="1.00" fill="#555" stroke="none" stroke-width="0.00"/>
<line x1="376.80" y1="344.80" x2="380.00" y2="344.80" stroke="#333" stroke-width="0.30"/>
<line x1="378.40" y1="343.20" x2="378.40" y2="346.40" stroke="#333" stroke-width="0.30"/>
<circle cx="378.40" cy="366.10" r="1.00" fill="#555" stroke="none" stroke-width="0.00"/>
<line x1="376.80" y1="366.10" x2="380.00" y2="366.10" stroke="#333" stroke-width="0.30"/>
<line x1="378.40" y1="364.50" x2="378.40" y2="367.70" stroke="#333" stroke-width="0.30"/>
<circle cx="251.70" cy="355.70" r="0.80" fill="#555" stroke="none" stroke-width="0.00"/>
<line x1="250.10" y1="355.70" x2="253.30" y2="355.70" stroke="#333" stroke-width="0.30"/>
<line x1="251.70" y1="354.10" x2="251.70" y2="357.30" stroke="#333" stroke-width="0.30"/>
<circle cx="283.20" cy="355.70" r="0.80" fill="#555" stroke="none" stroke-width="0.00"/>
<line x1="281.60" y1="355.70" x2="284.80" y2="355.70" stroke="#333" stroke-width="0.30"/>
<line x1="283.20" y1="354.10" x2="283.20" y2="357.30" stroke="#333" stroke-width="0.30"/>
<line x1="224.80" y1="307.50" x2="224.80" y2="386.80" stroke="#4a4a4a" stroke-width="0.45"/>
<line x1="251.70" y1="307.50" x2="251.70" y2="386.80" stroke="#4a4a4a" stroke-width="0.45"/>
<line x1="283.20" y1="342.00" x2="283.20" y2="386.80" stroke="#4a4a4a" stroke-width="0.45"/>
<line x1="346.60" y1="307.50" x2="346.60" y2="344.00" stroke="#4a4a4a" stroke-width="0.45"/>
<line x1="378.40" y1="307.50" x2="378.40" y2="386.80" stroke="#4a4a4a" stroke-width="0.45"/>
<line x1="403.70" y1="307.50" x2="403.70" y2="342.60" stroke="#4a4a4a" stroke-width="0.45"/>
<line x1="224.80" y1="309.80" x2="403.70" y2="309.80" stroke="#4a4a4a" stroke-width="0.45"/>
<polygon points="224.80,309.80 227.40,309.25 227.40,310.35" fill="#4a4a4a"/>
<polygon points="251.70,309.80 249.10,310.35 249.10,309.25" fill="#4a4a4a"/>
<polygon points="251.70,309.80 254.30,309.25 254.30,310.35" fill="#4a4a4a"/>
<polygon points="346.60,309.80 344.00,310.35 344.00,309.25" fill="#4a4a4a"/>
<polygon points="346.60,309.80 349.20,309.25 349.20,310.35" fill="#4a4a4a"/>
<polygon points="378.40,309.80 375.80,310.35 375.80,309.25" fill="#4a4a4a"/>
<polygon points="378.40,309.80 381.00,309.25 381.00,310.35" fill="#4a4a4a"/>
<polygon points="403.70,309.80 401.10,310.35 401.10,309.25" fill="#4a4a4a"/>
<text x="238.00" y="308.40" font-size="6.70" text-anchor="middle" font-weight="normal" fill="#3a3a3a" >84.5</text>
<text x="299.00" y="308.40" font-size="6.70" text-anchor="middle" font-weight="normal" fill="#3a3a3a" >M*100</text>
<text x="363.00" y="308.40" font-size="6.70" text-anchor="middle" font-weight="normal" fill="#3a3a3a" >A</text>
<text x="391.70" y="308.40" font-size="6.70" text-anchor="middle" font-weight="normal" fill="#3a3a3a" >80</text>
<line x1="224.80" y1="385.80" x2="378.40" y2="385.80" stroke="#4a4a4a" stroke-width="0.45"/>
<polygon points="224.80,385.80 227.40,385.25 227.40,386.35" fill="#4a4a4a"/>
<polygon points="251.70,385.80 249.10,386.35 249.10,385.25" fill="#4a4a4a"/>
<polygon points="251.70,385.80 254.30,385.25 254.30,386.35" fill="#4a4a4a"/>
<polygon points="283.20,385.80 280.60,386.35 280.60,385.25" fill="#4a4a4a"/>
<polygon points="283.20,385.80 285.80,385.25 285.80,386.35" fill="#4a4a4a"/>
<polygon points="378.40,385.80 375.80,386.35 375.80,385.25" fill="#4a4a4a"/>
<text x="238.00" y="384.20" font-size="6.70" text-anchor="middle" font-weight="normal" fill="#3a3a3a" >84.5</text>
<text x="267.40" y="384.20" font-size="6.70" text-anchor="middle" font-weight="normal" fill="#3a3a3a" textLength="27" lengthAdjust="spacingAndGlyphs">100±0.02</text>
<text x="330.80" y="384.20" font-size="6.70" text-anchor="middle" font-weight="normal" fill="#3a3a3a" >P</text>
<text x="282.40" y="336.60" font-size="6.70" text-anchor="start" font-weight="normal" fill="#3a3a3a" >N-M6<tspan font-family="'DejaVu Sans',sans-serif" font-size="5.6" dy="-0.2">↧</tspan><tspan dy="0.2"></tspan>15+Ø5.4-thr.</text>
<line x1="282.40" y1="337.80" x2="340.20" y2="337.80" stroke="#4a4a4a" stroke-width="0.45"/>
<line x1="340.20" y1="337.80" x2="349.60" y2="349.60" stroke="#4a4a4a" stroke-width="0.45"/>
<polygon points="349.60,349.60 347.88,348.16 348.58,347.60" fill="#4a4a4a"/>
<text x="295.30" y="376.60" font-size="6.70" text-anchor="start" font-weight="normal" fill="#3a3a3a" >2-Ø5<tspan font-family="'DejaVu Sans',sans-serif" font-size="5.6" dy="-0.2">↧</tspan><tspan dy="0.2"></tspan>9 H7</text>
<line x1="292.60" y1="377.80" x2="328.00" y2="377.80" stroke="#4a4a4a" stroke-width="0.45"/>
<line x1="292.60" y1="377.80" x2="279.60" y2="349.50" stroke="#4a4a4a" stroke-width="0.45"/>
<polygon points="279.60,349.50 280.93,351.31 280.11,351.69" fill="#4a4a4a"/>
<text x="365.30" y="339.30" font-size="6.70" text-anchor="start" font-weight="normal" fill="#29abe2" >B</text>
<line x1="369.20" y1="339.60" x2="376.60" y2="352.80" stroke="#555" stroke-width="0.40"/>
<circle cx="378.40" cy="355.60" r="3.30" fill="none" stroke="#29abe2" stroke-width="0.80"/>
<circle cx="378.40" cy="355.60" r="1.20" fill="#666" stroke="none" stroke-width="0.00"/>
<text x="384.80" y="341.00" font-size="6.70" text-anchor="start" font-weight="normal" fill="#f7931e" >C</text>
<line x1="379.40" y1="339.20" x2="383.60" y2="339.20" stroke="#4a4a4a" stroke-width="0.50"/>
<text x="384.80" y="375.20" font-size="6.70" text-anchor="start" font-weight="normal" fill="#f7931e" >C</text>
<line x1="379.40" y1="372.90" x2="383.60" y2="372.90" stroke="#4a4a4a" stroke-width="0.50"/>
<line x1="403.70" y1="342.60" x2="424.00" y2="342.60" stroke="#4a4a4a" stroke-width="0.45"/>
<line x1="403.70" y1="368.70" x2="424.00" y2="368.70" stroke="#4a4a4a" stroke-width="0.45"/>
<line x1="403.70" y1="345.80" x2="416.00" y2="345.80" stroke="#4a4a4a" stroke-width="0.45"/>
<line x1="403.70" y1="366.00" x2="416.00" y2="366.00" stroke="#4a4a4a" stroke-width="0.45"/>
<line x1="414.00" y1="345.80" x2="414.00" y2="366.00" stroke="#4a4a4a" stroke-width="0.45"/>
<polygon points="414.00,345.80 414.55,348.40 413.45,348.40" fill="#4a4a4a"/>
<polygon points="414.00,366.00 413.45,363.40 414.55,363.40" fill="#4a4a4a"/>
<line x1="422.30" y1="342.60" x2="422.30" y2="368.70" stroke="#4a4a4a" stroke-width="0.45"/>
<polygon points="422.30,342.60 422.85,345.20 421.75,345.20" fill="#4a4a4a"/>
<polygon points="422.30,368.70 421.75,366.10 422.85,366.10" fill="#4a4a4a"/>
<text x="412.40" y="355.90" font-size="6.70" text-anchor="middle" font-weight="normal" fill="#3a3a3a" transform="rotate(-90 412.40 355.90)" >68</text>
<text x="420.60" y="355.90" font-size="6.70" text-anchor="middle" font-weight="normal" fill="#3a3a3a" transform="rotate(-90 420.60 355.90)" >82</text>
<text x="516.60" y="256.00" font-size="6.70" text-anchor="middle" font-weight="normal" fill="#3a3a3a" >81</text>
<line x1="503.60" y1="257.30" x2="529.50" y2="257.30" stroke="#4a4a4a" stroke-width="0.45"/>
<polygon points="503.60,257.30 506.20,256.75 506.20,257.85" fill="#4a4a4a"/>
<polygon points="529.50,257.30 526.90,257.85 526.90,256.75" fill="#4a4a4a"/>
<line x1="503.60" y1="256.00" x2="503.60" y2="274.00" stroke="#4a4a4a" stroke-width="0.45"/>
<line x1="529.50" y1="256.00" x2="529.50" y2="274.00" stroke="#4a4a4a" stroke-width="0.45"/>
<text x="516.60" y="264.40" font-size="6.70" text-anchor="middle" font-weight="normal" fill="#3a3a3a" >65</text>
<line x1="506.00" y1="265.70" x2="526.80" y2="265.70" stroke="#4a4a4a" stroke-width="0.45"/>
<polygon points="506.00,265.70 508.60,265.15 508.60,266.25" fill="#4a4a4a"/>
<polygon points="526.80,265.70 524.20,266.25 524.20,265.15" fill="#4a4a4a"/>
<line x1="506.00" y1="264.40" x2="506.00" y2="274.00" stroke="#4a4a4a" stroke-width="0.45"/>
<line x1="526.80" y1="264.40" x2="526.80" y2="274.00" stroke="#4a4a4a" stroke-width="0.45"/>
<g>
<line x1="482.30" y1="275.30" x2="503.60" y2="275.30" stroke="#444" stroke-width="0.50"/>
<path d="M482.30 275.70 H496.90 L499.80 278.60 V292.50 L496.90 295.40 H482.30 L479.40 292.50 V278.60 Z" fill="#dedede" stroke="#3a3a3a" stroke-width="0.55" stroke-linejoin="round" />
<path d="M482.30 275.70 L479.40 278.60 L482.44 278.75 Z" fill="#8c8c8c" stroke="#555" stroke-width="0.30" stroke-linejoin="round" />
<path d="M496.90 275.70 L499.80 278.60 L496.75 278.75 Z" fill="#8c8c8c" stroke="#555" stroke-width="0.30" stroke-linejoin="round" />
<path d="M482.30 295.40 L479.40 292.50 L482.44 292.35 Z" fill="#8c8c8c" stroke="#555" stroke-width="0.30" stroke-linejoin="round" />
<path d="M496.90 295.40 L499.80 292.50 L496.75 292.35 Z" fill="#8c8c8c" stroke="#555" stroke-width="0.30" stroke-linejoin="round" />
<circle cx="489.60" cy="285.55" r="9.35" fill="#ececec" stroke="#3a3a3a" stroke-width="0.45"/>
<path d="M479.40 283.15 q-2.8 2.4 0 4.8" fill="#e4e4e4" stroke="#3a3a3a" stroke-width="0.45" stroke-linejoin="round" />
<circle cx="501.20" cy="295.60" r="0.45" fill="#444" stroke="none" stroke-width="0.00"/>
<rect x="503.60" y="274.00" width="25.90" height="12.44" fill="#ececec" stroke="#3a3a3a" stroke-width="0.55" rx="0.80"/>
<rect x="503.60" y="274.00" width="25.90" height="1.70" fill="#d8d8d8" stroke="#3a3a3a" stroke-width="0.45"/>
<rect x="503.90" y="286.44" width="25.30" height="11.96" fill="#ececec" stroke="#3a3a3a" stroke-width="0.55" rx="1.20"/>
<line x1="516.55" y1="275.70" x2="516.55" y2="298.40" stroke="#505050" stroke-width="0.45"/>
<rect x="504.10" y="278.00" width="1.40" height="3.80" fill="#fff" stroke="#3a3a3a" stroke-width="0.35" rx="0.70"/>
<line x1="506.00" y1="275.70" x2="506.00" y2="286.44" stroke="#666" stroke-width="0.35"/>
<text x="518.15" y="284.60" font-size="3.4" font-weight="bold" font-style="italic" text-anchor="middle" fill="#444" stroke="#444" stroke-width="0.3" textLength="10" lengthAdjust="spacingAndGlyphs">TOYO</text>
<rect x="513.15" y="285.20" width="10.00" height="0.60" fill="#666" stroke="none" stroke-width="0.00"/>
<rect x="527.30" y="278.20" width="4.30" height="6.20" fill="#4a4a4a" stroke="#222" stroke-width="0.30"/>
<line x1="525.30" y1="275.70" x2="525.30" y2="286.44" stroke="#666" stroke-width="0.35"/>
<circle cx="506.30" cy="288.74" r="0.75" fill="#aaa" stroke="#444" stroke-width="0.30"/>
<circle cx="506.30" cy="296.00" r="0.75" fill="#aaa" stroke="#444" stroke-width="0.30"/>
<circle cx="526.80" cy="288.74" r="0.75" fill="#aaa" stroke="#444" stroke-width="0.30"/>
<circle cx="526.80" cy="296.00" r="0.75" fill="#aaa" stroke="#444" stroke-width="0.30"/>
</g>
<line x1="529.50" y1="273.70" x2="543.00" y2="273.70" stroke="#4a4a4a" stroke-width="0.45"/>
<line x1="529.50" y1="298.40" x2="543.00" y2="298.40" stroke="#4a4a4a" stroke-width="0.45"/>
<line x1="541.30" y1="273.70" x2="541.30" y2="298.40" stroke="#4a4a4a" stroke-width="0.45"/>
<polygon points="541.30,273.70 541.85,276.30 540.75,276.30" fill="#4a4a4a"/>
<polygon points="541.30,298.40 540.75,295.80 541.85,295.80" fill="#4a4a4a"/>
<text x="539.40" y="285.60" font-size="6.70" text-anchor="middle" font-weight="normal" fill="#3a3a3a" transform="rotate(-90 539.40 285.60)" >78</text>
<text x="455.80" y="299.60" font-size="6.60" text-anchor="start" font-weight="bold" fill="#222" >基準面</text>
<text x="455.80" y="305.60" font-size="5.60" text-anchor="start" font-weight="normal" fill="#9a9a9a" >The datum plane</text>
<line x1="455.50" y1="307.20" x2="498.70" y2="307.20" stroke="#4a4a4a" stroke-width="0.45"/>
<line x1="498.70" y1="307.20" x2="498.70" y2="296.50" stroke="#4a4a4a" stroke-width="0.45"/>
<polygon points="498.70,296.00 499.15,298.00 498.25,298.00" fill="#4a4a4a"/>
<text x="508.70" y="329.00" font-size="6.40" text-anchor="middle" font-weight="normal" fill="#f7931e" letter-spacing="0.2" >C-C View</text>
<defs><pattern id="h354" width="5.4" height="5.4" patternUnits="userSpaceOnUse" patternTransform="rotate(26)"><line x1="1" y1="0" x2="1" y2="5.4" stroke="#505050" stroke-width="0.45"/></pattern></defs>
<path d="M486.60 354.40 H494.10 L495.10 355.40 V364.20 L496.70 365.60 H527.40 L529.00 364.20 V355.40 L530.00 354.40 H538.00 V376.80 L536.80 378.00 H487.80 L486.60 376.80 Z" fill="#e9e9e9" stroke="#3a3a3a" stroke-width="0.60" stroke-linejoin="round" />
<path d="M486.60 354.40 H494.10 L495.10 355.40 V364.20 L496.70 365.60 H527.40 L529.00 364.20 V355.40 L530.00 354.40 H538.00 V376.80 L536.80 378.00 H487.80 L486.60 376.80 Z" fill="url(#h354)" stroke="#3a3a3a" stroke-width="0.60" stroke-linejoin="round" />
<rect x="488.20" y="354.40" width="4.30" height="23.60" fill="#f3f3f3" stroke="#555" stroke-width="0.35"/>
<rect x="487.20" y="354.40" width="6.30" height="4.60" fill="#f3f3f3" stroke="#555" stroke-width="0.35"/>
<line x1="490.35" y1="352.90" x2="490.35" y2="379.50" stroke="#666" stroke-width="0.30" stroke-dasharray="3 1 1 1"/>
<rect x="531.80" y="354.40" width="4.40" height="23.60" fill="#f3f3f3" stroke="#555" stroke-width="0.35"/>
<rect x="530.80" y="354.40" width="6.40" height="4.60" fill="#f3f3f3" stroke="#555" stroke-width="0.35"/>
<line x1="534.00" y1="352.90" x2="534.00" y2="379.50" stroke="#666" stroke-width="0.30" stroke-dasharray="3 1 1 1"/>
<rect x="510.00" y="372.40" width="4.00" height="5.60" fill="#fff" stroke="#444" stroke-width="0.45"/>
<text x="509.00" y="338.00" font-size="6.70" text-anchor="middle" font-weight="normal" fill="#3a3a3a" >82</text>
<line x1="485.60" y1="339.40" x2="539.00" y2="339.40" stroke="#4a4a4a" stroke-width="0.45"/>
<polygon points="485.60,339.40 488.20,338.85 488.20,339.95" fill="#4a4a4a"/>
<polygon points="539.00,339.40 536.40,339.95 536.40,338.85" fill="#4a4a4a"/>
<line x1="485.60" y1="338.00" x2="485.60" y2="354.40" stroke="#4a4a4a" stroke-width="0.45"/>
<line x1="539.00" y1="338.00" x2="539.00" y2="354.40" stroke="#4a4a4a" stroke-width="0.45"/>
<text x="441.00" y="366.80" font-size="6.60" text-anchor="start" font-weight="bold" fill="#222" >基準面</text>
<text x="441.00" y="372.80" font-size="5.60" text-anchor="start" font-weight="normal" fill="#9a9a9a" >The datum plane</text>
<line x1="440.00" y1="374.20" x2="485.60" y2="374.20" stroke="#4a4a4a" stroke-width="0.45"/>
<polygon points="485.60,374.20 483.20,374.70 483.20,373.70" fill="#4a4a4a"/>
<text x="551.00" y="364.30" font-size="6.70" text-anchor="middle" font-weight="normal" fill="#3a3a3a" >9</text>
<line x1="550.00" y1="365.20" x2="550.00" y2="386.00" stroke="#4a4a4a" stroke-width="0.45"/>
<polygon points="550.00,372.40 549.45,369.80 550.55,369.80" fill="#4a4a4a"/>
<polygon points="550.00,378.00 550.55,380.60 549.45,380.60" fill="#4a4a4a"/>
<line x1="514.00" y1="372.40" x2="551.50" y2="372.40" stroke="#4a4a4a" stroke-width="0.45"/>
<line x1="539.00" y1="378.00" x2="551.50" y2="378.00" stroke="#4a4a4a" stroke-width="0.45"/>
<line x1="485.60" y1="378.00" x2="485.60" y2="390.00" stroke="#4a4a4a" stroke-width="0.45"/>
<line x1="512.00" y1="378.00" x2="512.00" y2="390.00" stroke="#4a4a4a" stroke-width="0.45"/>
<line x1="539.00" y1="378.00" x2="539.00" y2="390.00" stroke="#4a4a4a" stroke-width="0.45"/>
<line x1="485.60" y1="389.00" x2="539.00" y2="389.00" stroke="#4a4a4a" stroke-width="0.45"/>
<polygon points="485.60,389.00 488.20,388.45 488.20,389.55" fill="#4a4a4a"/>
<polygon points="512.00,389.00 509.40,389.55 509.40,388.45" fill="#4a4a4a"/>
<polygon points="512.00,389.00 514.60,388.45 514.60,389.55" fill="#4a4a4a"/>
<polygon points="539.00,389.00 536.40,389.55 536.40,388.45" fill="#4a4a4a"/>
<text x="499.30" y="387.60" font-size="6.00" text-anchor="middle" font-weight="normal" fill="#3a3a3a" textLength="21.5" lengthAdjust="spacingAndGlyphs">40.7±0.03</text>
<text x="525.30" y="387.60" font-size="6.70" text-anchor="middle" font-weight="normal" fill="#3a3a3a" >41</text>
<text x="161.00" y="343.20" font-size="6.50" text-anchor="start" font-weight="normal" fill="#29abe2" letter-spacing="0.3" >B View</text>
<rect x="168.70" y="363.90" width="6.80" height="5.20" fill="#f2f2f2" stroke="#3a3a3a" stroke-width="0.55" rx="2.60"/>
<line x1="169.50" y1="366.50" x2="174.70" y2="366.50" stroke="#777" stroke-width="0.30"/>
<text x="172.70" y="354.20" font-size="6.40" text-anchor="middle" font-weight="normal" fill="#3a3a3a" >7</text>
<line x1="168.70" y1="349.70" x2="168.70" y2="364.90" stroke="#4a4a4a" stroke-width="0.45"/>
<line x1="175.50" y1="349.70" x2="175.50" y2="364.90" stroke="#4a4a4a" stroke-width="0.45"/>
<line x1="162.50" y1="355.50" x2="181.50" y2="355.50" stroke="#4a4a4a" stroke-width="0.45"/>
<polygon points="168.70,355.50 166.10,356.05 166.10,354.95" fill="#4a4a4a"/>
<polygon points="175.50,355.50 178.10,354.95 178.10,356.05" fill="#4a4a4a"/>
<line x1="158.80" y1="357.40" x2="158.80" y2="375.60" stroke="#4a4a4a" stroke-width="0.45"/>
<polygon points="158.80,363.90 158.25,361.30 159.35,361.30" fill="#4a4a4a"/>
<polygon points="158.80,369.10 159.35,371.70 158.25,371.70" fill="#4a4a4a"/>
<line x1="157.60" y1="363.90" x2="170.70" y2="363.90" stroke="#4a4a4a" stroke-width="0.45"/>
<line x1="157.60" y1="369.10" x2="170.70" y2="369.10" stroke="#4a4a4a" stroke-width="0.45"/>
<text x="153.60" y="382.00" font-size="6.40" text-anchor="start" font-weight="normal" fill="#3a3a3a" transform="rotate(-90 153.60 382.00)" >5</text>
<text x="153.40" y="377.10" font-size="6.00" text-anchor="start" font-weight="normal" fill="#3a3a3a" transform="rotate(-90 153.40 377.10)" >+0.012</text>
<text x="157.60" y="372.10" font-size="6.00" text-anchor="start" font-weight="normal" fill="#3a3a3a" transform="rotate(-90 157.60 372.10)" >0</text>
<rect x="81.90" y="405.30" width="492.30" height="14.60" fill="#ea635a"/>
<line x1="120.10" y1="405.30" x2="120.10" y2="419.90" stroke="#8a2f2a" stroke-width="0.45"/>
<line x1="140.74" y1="405.30" x2="140.74" y2="419.90" stroke="#8a2f2a" stroke-width="0.45"/>
<line x1="161.38" y1="405.30" x2="161.38" y2="419.90" stroke="#8a2f2a" stroke-width="0.45"/>
<line x1="182.02" y1="405.30" x2="182.02" y2="419.90" stroke="#8a2f2a" stroke-width="0.45"/>
<line x1="202.66" y1="405.30" x2="202.66" y2="419.90" stroke="#8a2f2a" stroke-width="0.45"/>
<line x1="223.30" y1="405.30" x2="223.30" y2="419.90" stroke="#8a2f2a" stroke-width="0.45"/>
<line x1="243.95" y1="405.30" x2="243.95" y2="419.90" stroke="#8a2f2a" stroke-width="0.45"/>
<line x1="264.59" y1="405.30" x2="264.59" y2="419.90" stroke="#8a2f2a" stroke-width="0.45"/>
<line x1="285.23" y1="405.30" x2="285.23" y2="419.90" stroke="#8a2f2a" stroke-width="0.45"/>
<line x1="305.87" y1="405.30" x2="305.87" y2="419.90" stroke="#8a2f2a" stroke-width="0.45"/>
<line x1="326.51" y1="405.30" x2="326.51" y2="419.90" stroke="#8a2f2a" stroke-width="0.45"/>
<line x1="347.15" y1="405.30" x2="347.15" y2="419.90" stroke="#8a2f2a" stroke-width="0.45"/>
<line x1="367.79" y1="405.30" x2="367.79" y2="419.90" stroke="#8a2f2a" stroke-width="0.45"/>
<line x1="388.43" y1="405.30" x2="388.43" y2="419.90" stroke="#8a2f2a" stroke-width="0.45"/>
<line x1="409.07" y1="405.30" x2="409.07" y2="419.90" stroke="#8a2f2a" stroke-width="0.45"/>
<line x1="429.71" y1="405.30" x2="429.71" y2="419.90" stroke="#8a2f2a" stroke-width="0.45"/>
<line x1="450.35" y1="405.30" x2="450.35" y2="419.90" stroke="#8a2f2a" stroke-width="0.45"/>
<line x1="471.00" y1="405.30" x2="471.00" y2="419.90" stroke="#8a2f2a" stroke-width="0.45"/>
<line x1="491.64" y1="405.30" x2="491.64" y2="419.90" stroke="#8a2f2a" stroke-width="0.45"/>
<line x1="512.28" y1="405.30" x2="512.28" y2="419.90" stroke="#8a2f2a" stroke-width="0.45"/>
<line x1="532.92" y1="405.30" x2="532.92" y2="419.90" stroke="#8a2f2a" stroke-width="0.45"/>
<line x1="553.56" y1="405.30" x2="553.56" y2="419.90" stroke="#8a2f2a" stroke-width="0.45"/>
<text x="100.80" y="412.20" font-size="6.90" text-anchor="middle" font-weight="bold" fill="#fff" >有效行程</text>
<text x="100.80" y="418.20" font-size="6.20" text-anchor="middle" font-weight="normal" fill="#fbcfca" >Stroke</text>
<text x="127.72" y="415.30" font-size="6.20" text-anchor="middle" font-weight="normal" fill="#fff" >50</text>
<text x="134.62" y="411.50" font-size="3.40" text-anchor="middle" font-weight="normal" fill="#fde0dc" >※</text>
<text x="151.06" y="415.30" font-size="6.20" text-anchor="middle" font-weight="normal" fill="#fff" >100</text>
<text x="171.70" y="415.30" font-size="6.20" text-anchor="middle" font-weight="normal" fill="#fff" >150</text>
<text x="192.34" y="415.30" font-size="6.20" text-anchor="middle" font-weight="normal" fill="#fff" >200</text>
<text x="212.98" y="415.30" font-size="6.20" text-anchor="middle" font-weight="normal" fill="#fff" >250</text>
<text x="233.62" y="415.30" font-size="6.20" text-anchor="middle" font-weight="normal" fill="#fff" >300</text>
<text x="254.27" y="415.30" font-size="6.20" text-anchor="middle" font-weight="normal" fill="#fff" >350</text>
<text x="274.91" y="415.30" font-size="6.20" text-anchor="middle" font-weight="normal" fill="#fff" >400</text>
<text x="295.55" y="415.30" font-size="6.20" text-anchor="middle" font-weight="normal" fill="#fff" >450</text>
<text x="316.19" y="415.30" font-size="6.20" text-anchor="middle" font-weight="normal" fill="#fff" >500</text>
<text x="336.83" y="415.30" font-size="6.20" text-anchor="middle" font-weight="normal" fill="#fff" >550</text>
<text x="357.47" y="415.30" font-size="6.20" text-anchor="middle" font-weight="normal" fill="#fff" >600</text>
<text x="378.11" y="415.30" font-size="6.20" text-anchor="middle" font-weight="normal" fill="#fff" >650</text>
<text x="398.75" y="415.30" font-size="6.20" text-anchor="middle" font-weight="normal" fill="#fff" >700</text>
<text x="419.39" y="415.30" font-size="6.20" text-anchor="middle" font-weight="normal" fill="#fff" >750</text>
<text x="440.03" y="415.30" font-size="6.20" text-anchor="middle" font-weight="normal" fill="#fff" >800</text>
<text x="460.68" y="415.30" font-size="6.20" text-anchor="middle" font-weight="normal" fill="#fff" >850</text>
<text x="481.32" y="415.30" font-size="6.20" text-anchor="middle" font-weight="normal" fill="#fff" >900</text>
<text x="501.96" y="415.30" font-size="6.20" text-anchor="middle" font-weight="normal" fill="#fff" >950</text>
<text x="522.60" y="415.30" font-size="6.20" text-anchor="middle" font-weight="normal" fill="#fff" >1000</text>
<text x="543.24" y="415.30" font-size="6.20" text-anchor="middle" font-weight="normal" fill="#fff" >1050</text>
<text x="563.88" y="415.30" font-size="6.20" text-anchor="middle" font-weight="normal" fill="#fff" >1100</text>
<rect x="81.90" y="420.40" width="38.20" height="49.98" fill="#fbe4d8"/>
<line x1="120.10" y1="420.40" x2="120.10" y2="470.38" stroke="#9a9a9a" stroke-width="0.45"/>
<line x1="140.74" y1="420.40" x2="140.74" y2="470.38" stroke="#9a9a9a" stroke-width="0.45"/>
<line x1="161.38" y1="420.40" x2="161.38" y2="470.38" stroke="#9a9a9a" stroke-width="0.45"/>
<line x1="182.02" y1="420.40" x2="182.02" y2="470.38" stroke="#9a9a9a" stroke-width="0.45"/>
<line x1="202.66" y1="420.40" x2="202.66" y2="470.38" stroke="#9a9a9a" stroke-width="0.45"/>
<line x1="223.30" y1="420.40" x2="223.30" y2="470.38" stroke="#9a9a9a" stroke-width="0.45"/>
<line x1="243.95" y1="420.40" x2="243.95" y2="470.38" stroke="#9a9a9a" stroke-width="0.45"/>
<line x1="264.59" y1="420.40" x2="264.59" y2="470.38" stroke="#9a9a9a" stroke-width="0.45"/>
<line x1="285.23" y1="420.40" x2="285.23" y2="470.38" stroke="#9a9a9a" stroke-width="0.45"/>
<line x1="305.87" y1="420.40" x2="305.87" y2="470.38" stroke="#9a9a9a" stroke-width="0.45"/>
<line x1="326.51" y1="420.40" x2="326.51" y2="470.38" stroke="#9a9a9a" stroke-width="0.45"/>
<line x1="347.15" y1="420.40" x2="347.15" y2="470.38" stroke="#9a9a9a" stroke-width="0.45"/>
<line x1="367.79" y1="420.40" x2="367.79" y2="470.38" stroke="#9a9a9a" stroke-width="0.45"/>
<line x1="388.43" y1="420.40" x2="388.43" y2="470.38" stroke="#9a9a9a" stroke-width="0.45"/>
<line x1="409.07" y1="420.40" x2="409.07" y2="470.38" stroke="#9a9a9a" stroke-width="0.45"/>
<line x1="429.71" y1="420.40" x2="429.71" y2="470.38" stroke="#9a9a9a" stroke-width="0.45"/>
<line x1="450.35" y1="420.40" x2="450.35" y2="470.38" stroke="#9a9a9a" stroke-width="0.45"/>
<line x1="471.00" y1="420.40" x2="471.00" y2="470.38" stroke="#9a9a9a" stroke-width="0.45"/>
<line x1="491.64" y1="420.40" x2="491.64" y2="470.38" stroke="#9a9a9a" stroke-width="0.45"/>
<line x1="512.28" y1="420.40" x2="512.28" y2="470.38" stroke="#9a9a9a" stroke-width="0.45"/>
<line x1="532.92" y1="420.40" x2="532.92" y2="470.38" stroke="#9a9a9a" stroke-width="0.45"/>
<line x1="553.56" y1="420.40" x2="553.56" y2="470.38" stroke="#9a9a9a" stroke-width="0.45"/>
<line x1="574.20" y1="420.40" x2="574.20" y2="470.38" stroke="#9a9a9a" stroke-width="0.45"/>
<line x1="81.90" y1="420.40" x2="574.20" y2="420.40" stroke="#3a3a3a" stroke-width="0.75"/>
<text x="101.00" y="426.70" font-size="6.00" text-anchor="middle" font-weight="normal" fill="#222" >L</text>
<text x="130.42" y="426.70" font-size="6.00" text-anchor="middle" font-weight="normal" fill="#222" >314.5</text>
<text x="151.06" y="426.70" font-size="6.00" text-anchor="middle" font-weight="normal" fill="#222" >364.5</text>
<text x="171.70" y="426.70" font-size="6.00" text-anchor="middle" font-weight="normal" fill="#222" >414.5</text>
<text x="192.34" y="426.70" font-size="6.00" text-anchor="middle" font-weight="normal" fill="#222" >464.5</text>
<text x="212.98" y="426.70" font-size="6.00" text-anchor="middle" font-weight="normal" fill="#222" >514.5</text>
<text x="233.62" y="426.70" font-size="6.00" text-anchor="middle" font-weight="normal" fill="#222" >564.5</text>
<text x="254.27" y="426.70" font-size="6.00" text-anchor="middle" font-weight="normal" fill="#222" >614.5</text>
<text x="274.91" y="426.70" font-size="6.00" text-anchor="middle" font-weight="normal" fill="#222" >664.5</text>
<text x="295.55" y="426.70" font-size="6.00" text-anchor="middle" font-weight="normal" fill="#222" >714.5</text>
<text x="316.19" y="426.70" font-size="6.00" text-anchor="middle" font-weight="normal" fill="#222" >764.5</text>
<text x="336.83" y="426.70" font-size="6.00" text-anchor="middle" font-weight="normal" fill="#222" >814.5</text>
<text x="357.47" y="426.70" font-size="6.00" text-anchor="middle" font-weight="normal" fill="#222" >864.5</text>
<text x="378.11" y="426.70" font-size="6.00" text-anchor="middle" font-weight="normal" fill="#222" >914.5</text>
<text x="398.75" y="426.70" font-size="6.00" text-anchor="middle" font-weight="normal" fill="#222" >964.5</text>
<text x="419.39" y="426.70" font-size="6.00" text-anchor="middle" font-weight="normal" fill="#222" textLength="19.4" lengthAdjust="spacingAndGlyphs">1014.5</text>
<text x="440.03" y="426.70" font-size="6.00" text-anchor="middle" font-weight="normal" fill="#222" textLength="19.4" lengthAdjust="spacingAndGlyphs">1064.5</text>
<text x="460.68" y="426.70" font-size="6.00" text-anchor="middle" font-weight="normal" fill="#222" textLength="19.4" lengthAdjust="spacingAndGlyphs">1114.5</text>
<text x="481.32" y="426.70" font-size="6.00" text-anchor="middle" font-weight="normal" fill="#222" textLength="19.4" lengthAdjust="spacingAndGlyphs">1164.5</text>
<text x="501.96" y="426.70" font-size="6.00" text-anchor="middle" font-weight="normal" fill="#222" textLength="19.4" lengthAdjust="spacingAndGlyphs">1214.5</text>
<text x="522.60" y="426.70" font-size="6.00" text-anchor="middle" font-weight="normal" fill="#222" textLength="19.4" lengthAdjust="spacingAndGlyphs">1264.5</text>
<text x="543.24" y="426.70" font-size="6.00" text-anchor="middle" font-weight="normal" fill="#222" textLength="19.4" lengthAdjust="spacingAndGlyphs">1314.5</text>
<text x="563.88" y="426.70" font-size="6.00" text-anchor="middle" font-weight="normal" fill="#222" textLength="19.4" lengthAdjust="spacingAndGlyphs">1364.5</text>
<line x1="81.90" y1="428.73" x2="574.20" y2="428.73" stroke="#3a3a3a" stroke-width="0.75"/>
<text x="101.00" y="435.03" font-size="6.00" text-anchor="middle" font-weight="normal" fill="#222" >A</text>
<text x="130.42" y="435.03" font-size="6.00" text-anchor="middle" font-weight="normal" fill="#222" >50</text>
<text x="151.06" y="435.03" font-size="6.00" text-anchor="middle" font-weight="normal" fill="#222" >100</text>
<text x="171.70" y="435.03" font-size="6.00" text-anchor="middle" font-weight="normal" fill="#222" >50</text>
<text x="192.34" y="435.03" font-size="6.00" text-anchor="middle" font-weight="normal" fill="#222" >100</text>
<text x="212.98" y="435.03" font-size="6.00" text-anchor="middle" font-weight="normal" fill="#222" >50</text>
<text x="233.62" y="435.03" font-size="6.00" text-anchor="middle" font-weight="normal" fill="#222" >100</text>
<text x="254.27" y="435.03" font-size="6.00" text-anchor="middle" font-weight="normal" fill="#222" >50</text>
<text x="274.91" y="435.03" font-size="6.00" text-anchor="middle" font-weight="normal" fill="#222" >100</text>
<text x="295.55" y="435.03" font-size="6.00" text-anchor="middle" font-weight="normal" fill="#222" >50</text>
<text x="316.19" y="435.03" font-size="6.00" text-anchor="middle" font-weight="normal" fill="#222" >100</text>
<text x="336.83" y="435.03" font-size="6.00" text-anchor="middle" font-weight="normal" fill="#222" >50</text>
<text x="357.47" y="435.03" font-size="6.00" text-anchor="middle" font-weight="normal" fill="#222" >100</text>
<text x="378.11" y="435.03" font-size="6.00" text-anchor="middle" font-weight="normal" fill="#222" >50</text>
<text x="398.75" y="435.03" font-size="6.00" text-anchor="middle" font-weight="normal" fill="#222" >100</text>
<text x="419.39" y="435.03" font-size="6.00" text-anchor="middle" font-weight="normal" fill="#222" >50</text>
<text x="440.03" y="435.03" font-size="6.00" text-anchor="middle" font-weight="normal" fill="#222" >100</text>
<text x="460.68" y="435.03" font-size="6.00" text-anchor="middle" font-weight="normal" fill="#222" >50</text>
<text x="481.32" y="435.03" font-size="6.00" text-anchor="middle" font-weight="normal" fill="#222" >100</text>
<text x="501.96" y="435.03" font-size="6.00" text-anchor="middle" font-weight="normal" fill="#222" >50</text>
<text x="522.60" y="435.03" font-size="6.00" text-anchor="middle" font-weight="normal" fill="#222" >100</text>
<text x="543.24" y="435.03" font-size="6.00" text-anchor="middle" font-weight="normal" fill="#222" >50</text>
<text x="563.88" y="435.03" font-size="6.00" text-anchor="middle" font-weight="normal" fill="#222" >100</text>
<line x1="81.90" y1="437.06" x2="574.20" y2="437.06" stroke="#3a3a3a" stroke-width="0.75"/>
<text x="101.00" y="443.36" font-size="6.00" text-anchor="middle" font-weight="normal" fill="#222" >M</text>
<text x="130.42" y="443.36" font-size="6.00" text-anchor="middle" font-weight="normal" fill="#222" >1</text>
<text x="151.06" y="443.36" font-size="6.00" text-anchor="middle" font-weight="normal" fill="#222" >1</text>
<text x="171.70" y="443.36" font-size="6.00" text-anchor="middle" font-weight="normal" fill="#222" >2</text>
<text x="192.34" y="443.36" font-size="6.00" text-anchor="middle" font-weight="normal" fill="#222" >2</text>
<text x="212.98" y="443.36" font-size="6.00" text-anchor="middle" font-weight="normal" fill="#222" >3</text>
<text x="233.62" y="443.36" font-size="6.00" text-anchor="middle" font-weight="normal" fill="#222" >3</text>
<text x="254.27" y="443.36" font-size="6.00" text-anchor="middle" font-weight="normal" fill="#222" >4</text>
<text x="274.91" y="443.36" font-size="6.00" text-anchor="middle" font-weight="normal" fill="#222" >4</text>
<text x="295.55" y="443.36" font-size="6.00" text-anchor="middle" font-weight="normal" fill="#222" >5</text>
<text x="316.19" y="443.36" font-size="6.00" text-anchor="middle" font-weight="normal" fill="#222" >5</text>
<text x="336.83" y="443.36" font-size="6.00" text-anchor="middle" font-weight="normal" fill="#222" >6</text>
<text x="357.47" y="443.36" font-size="6.00" text-anchor="middle" font-weight="normal" fill="#222" >6</text>
<text x="378.11" y="443.36" font-size="6.00" text-anchor="middle" font-weight="normal" fill="#222" >7</text>
<text x="398.75" y="443.36" font-size="6.00" text-anchor="middle" font-weight="normal" fill="#222" >7</text>
<text x="419.39" y="443.36" font-size="6.00" text-anchor="middle" font-weight="normal" fill="#222" >8</text>
<text x="440.03" y="443.36" font-size="6.00" text-anchor="middle" font-weight="normal" fill="#222" >8</text>
<text x="460.68" y="443.36" font-size="6.00" text-anchor="middle" font-weight="normal" fill="#222" >9</text>
<text x="481.32" y="443.36" font-size="6.00" text-anchor="middle" font-weight="normal" fill="#222" >9</text>
<text x="501.96" y="443.36" font-size="6.00" text-anchor="middle" font-weight="normal" fill="#222" >10</text>
<text x="522.60" y="443.36" font-size="6.00" text-anchor="middle" font-weight="normal" fill="#222" >10</text>
<text x="543.24" y="443.36" font-size="6.00" text-anchor="middle" font-weight="normal" fill="#222" >11</text>
<text x="563.88" y="443.36" font-size="6.00" text-anchor="middle" font-weight="normal" fill="#222" >11</text>
<line x1="81.90" y1="445.39" x2="574.20" y2="445.39" stroke="#3a3a3a" stroke-width="0.75"/>
<text x="101.00" y="451.69" font-size="6.00" text-anchor="middle" font-weight="normal" fill="#222" >N</text>
<text x="130.42" y="451.69" font-size="6.00" text-anchor="middle" font-weight="normal" fill="#222" >6</text>
<text x="151.06" y="451.69" font-size="6.00" text-anchor="middle" font-weight="normal" fill="#222" >6</text>
<text x="171.70" y="451.69" font-size="6.00" text-anchor="middle" font-weight="normal" fill="#222" >8</text>
<text x="192.34" y="451.69" font-size="6.00" text-anchor="middle" font-weight="normal" fill="#222" >8</text>
<text x="212.98" y="451.69" font-size="6.00" text-anchor="middle" font-weight="normal" fill="#222" >10</text>
<text x="233.62" y="451.69" font-size="6.00" text-anchor="middle" font-weight="normal" fill="#222" >10</text>
<text x="254.27" y="451.69" font-size="6.00" text-anchor="middle" font-weight="normal" fill="#222" >12</text>
<text x="274.91" y="451.69" font-size="6.00" text-anchor="middle" font-weight="normal" fill="#222" >12</text>
<text x="295.55" y="451.69" font-size="6.00" text-anchor="middle" font-weight="normal" fill="#222" >14</text>
<text x="316.19" y="451.69" font-size="6.00" text-anchor="middle" font-weight="normal" fill="#222" >14</text>
<text x="336.83" y="451.69" font-size="6.00" text-anchor="middle" font-weight="normal" fill="#222" >16</text>
<text x="357.47" y="451.69" font-size="6.00" text-anchor="middle" font-weight="normal" fill="#222" >16</text>
<text x="378.11" y="451.69" font-size="6.00" text-anchor="middle" font-weight="normal" fill="#222" >18</text>
<text x="398.75" y="451.69" font-size="6.00" text-anchor="middle" font-weight="normal" fill="#222" >18</text>
<text x="419.39" y="451.69" font-size="6.00" text-anchor="middle" font-weight="normal" fill="#222" >20</text>
<text x="440.03" y="451.69" font-size="6.00" text-anchor="middle" font-weight="normal" fill="#222" >20</text>
<text x="460.68" y="451.69" font-size="6.00" text-anchor="middle" font-weight="normal" fill="#222" >22</text>
<text x="481.32" y="451.69" font-size="6.00" text-anchor="middle" font-weight="normal" fill="#222" >22</text>
<text x="501.96" y="451.69" font-size="6.00" text-anchor="middle" font-weight="normal" fill="#222" >24</text>
<text x="522.60" y="451.69" font-size="6.00" text-anchor="middle" font-weight="normal" fill="#222" >24</text>
<text x="543.24" y="451.69" font-size="6.00" text-anchor="middle" font-weight="normal" fill="#222" >26</text>
<text x="563.88" y="451.69" font-size="6.00" text-anchor="middle" font-weight="normal" fill="#222" >26</text>
<line x1="81.90" y1="453.72" x2="574.20" y2="453.72" stroke="#3a3a3a" stroke-width="0.75"/>
<text x="101.00" y="460.02" font-size="6.00" text-anchor="middle" font-weight="normal" fill="#222" >P</text>
<text x="130.42" y="460.02" font-size="6.00" text-anchor="middle" font-weight="normal" fill="#222" >50</text>
<text x="151.06" y="460.02" font-size="6.00" text-anchor="middle" font-weight="normal" fill="#222" >100</text>
<text x="171.70" y="460.02" font-size="6.00" text-anchor="middle" font-weight="normal" fill="#222" >150</text>
<text x="192.34" y="460.02" font-size="6.00" text-anchor="middle" font-weight="normal" fill="#222" >200</text>
<text x="212.98" y="460.02" font-size="6.00" text-anchor="middle" font-weight="normal" fill="#222" >250</text>
<text x="233.62" y="460.02" font-size="6.00" text-anchor="middle" font-weight="normal" fill="#222" >300</text>
<text x="254.27" y="460.02" font-size="6.00" text-anchor="middle" font-weight="normal" fill="#222" >350</text>
<text x="274.91" y="460.02" font-size="6.00" text-anchor="middle" font-weight="normal" fill="#222" >400</text>
<text x="295.55" y="460.02" font-size="6.00" text-anchor="middle" font-weight="normal" fill="#222" >450</text>
<text x="316.19" y="460.02" font-size="6.00" text-anchor="middle" font-weight="normal" fill="#222" >500</text>
<text x="336.83" y="460.02" font-size="6.00" text-anchor="middle" font-weight="normal" fill="#222" >550</text>
<text x="357.47" y="460.02" font-size="6.00" text-anchor="middle" font-weight="normal" fill="#222" >600</text>
<text x="378.11" y="460.02" font-size="6.00" text-anchor="middle" font-weight="normal" fill="#222" >650</text>
<text x="398.75" y="460.02" font-size="6.00" text-anchor="middle" font-weight="normal" fill="#222" >700</text>
<text x="419.39" y="460.02" font-size="6.00" text-anchor="middle" font-weight="normal" fill="#222" >750</text>
<text x="440.03" y="460.02" font-size="6.00" text-anchor="middle" font-weight="normal" fill="#222" >800</text>
<text x="460.68" y="460.02" font-size="6.00" text-anchor="middle" font-weight="normal" fill="#222" >850</text>
<text x="481.32" y="460.02" font-size="6.00" text-anchor="middle" font-weight="normal" fill="#222" >900</text>
<text x="501.96" y="460.02" font-size="6.00" text-anchor="middle" font-weight="normal" fill="#222" >950</text>
<text x="522.60" y="460.02" font-size="6.00" text-anchor="middle" font-weight="normal" fill="#222" >1000</text>
<text x="543.24" y="460.02" font-size="6.00" text-anchor="middle" font-weight="normal" fill="#222" >1050</text>
<text x="563.88" y="460.02" font-size="6.00" text-anchor="middle" font-weight="normal" fill="#222" >1100</text>
<line x1="81.90" y1="462.05" x2="574.20" y2="462.05" stroke="#3a3a3a" stroke-width="0.75"/>
<text x="101.00" y="468.35" font-size="6.00" text-anchor="middle" font-weight="normal" fill="#222" >KG</text>
<text x="130.42" y="468.35" font-size="6.00" text-anchor="middle" font-weight="normal" fill="#222" >3.95</text>
<text x="151.06" y="468.35" font-size="6.00" text-anchor="middle" font-weight="normal" fill="#222" >4.33</text>
<text x="171.70" y="468.35" font-size="6.00" text-anchor="middle" font-weight="normal" fill="#222" >4.74</text>
<text x="192.34" y="468.35" font-size="6.00" text-anchor="middle" font-weight="normal" fill="#222" >5.09</text>
<text x="212.98" y="468.35" font-size="6.00" text-anchor="middle" font-weight="normal" fill="#222" >5.39</text>
<text x="233.62" y="468.35" font-size="6.00" text-anchor="middle" font-weight="normal" fill="#222" >5.72</text>
<text x="254.27" y="468.35" font-size="6.00" text-anchor="middle" font-weight="normal" fill="#222" >6.04</text>
<text x="274.91" y="468.35" font-size="6.00" text-anchor="middle" font-weight="normal" fill="#222" >6.39</text>
<text x="295.55" y="468.35" font-size="6.00" text-anchor="middle" font-weight="normal" fill="#222" >6.68</text>
<text x="316.19" y="468.35" font-size="6.00" text-anchor="middle" font-weight="normal" fill="#222" >7.01</text>
<text x="336.83" y="468.35" font-size="6.00" text-anchor="middle" font-weight="normal" fill="#222" >7.45</text>
<text x="357.47" y="468.35" font-size="6.00" text-anchor="middle" font-weight="normal" fill="#222" >7.75</text>
<text x="378.11" y="468.35" font-size="6.00" text-anchor="middle" font-weight="normal" fill="#222" >8.16</text>
<text x="398.75" y="468.35" font-size="6.00" text-anchor="middle" font-weight="normal" fill="#222" >8.45</text>
<text x="419.39" y="468.35" font-size="6.00" text-anchor="middle" font-weight="normal" fill="#222" >8.69</text>
<text x="440.03" y="468.35" font-size="6.00" text-anchor="middle" font-weight="normal" fill="#222" >9.00</text>
<text x="460.68" y="468.35" font-size="6.00" text-anchor="middle" font-weight="normal" fill="#222" >9.41</text>
<text x="481.32" y="468.35" font-size="6.00" text-anchor="middle" font-weight="normal" fill="#222" >9.66</text>
<text x="501.96" y="468.35" font-size="6.00" text-anchor="middle" font-weight="normal" fill="#222" >10.08</text>
<text x="522.60" y="468.35" font-size="6.00" text-anchor="middle" font-weight="normal" fill="#222" >10.32</text>
<text x="543.24" y="468.35" font-size="6.00" text-anchor="middle" font-weight="normal" fill="#222" >10.74</text>
<text x="563.88" y="468.35" font-size="6.00" text-anchor="middle" font-weight="normal" fill="#222" >11.16</text>
<line x1="81.90" y1="470.28" x2="574.20" y2="470.28" stroke="#3a3a3a" stroke-width="0.85"/>
<circle cx="87.2" cy="509.10" r="10.1" fill="url(#gcirc)"/>
<text x="87.20" y="513.40" font-size="12.30" text-anchor="middle" font-weight="normal" fill="#fff" textLength="12.9" lengthAdjust="spacingAndGlyphs" stroke="#fff" stroke-width="0.25">BR</text>
<text x="100.80" y="512.60" font-size="9.50" text-anchor="start" font-weight="bold" fill="#2a2a2a" letter-spacing="0.25" >馬達右折</text>
<text x="142.30" y="511.70" font-size="6.00" text-anchor="start" font-weight="normal" fill="#333" letter-spacing="0.42" >Motor Right Side</text>
<path d="M209.50 511.60 H204.90 C200.90 511.60 199.70 506.60 203.90 505.20 C203.50 499.80 209.90 496.80 213.50 501.20 C216.70 499.00 221.30 501.00 220.70 505.20 C225.90 505.80 225.70 511.60 220.90 511.60 H215.90" fill="none" stroke="#e8584e" stroke-width="1.30" stroke-linejoin="round" stroke-linecap="round"/>
<path d="M211.00 507.40 h3.4 v3.3 h1.5 l-3.2 3.9 l-3.2 -3.9 h1.5 z" fill="#ec7d75"/>
<text x="213.20" y="520.00" font-size="5.10" text-anchor="middle" font-weight="bold" fill="#333" >2D CAD</text>
<path d="M237.50 511.60 H232.90 C228.90 511.60 227.70 506.60 231.90 505.20 C231.50 499.80 237.90 496.80 241.50 501.20 C244.70 499.00 249.30 501.00 248.70 505.20 C253.90 505.80 253.70 511.60 248.90 511.60 H243.90" fill="none" stroke="#e8584e" stroke-width="1.30" stroke-linejoin="round" stroke-linecap="round"/>
<path d="M239.00 507.40 h3.4 v3.3 h1.5 l-3.2 3.9 l-3.2 -3.9 h1.5 z" fill="#ec7d75"/>
<text x="241.20" y="520.00" font-size="5.10" text-anchor="middle" font-weight="bold" fill="#333" >3D CAD</text>
<rect x="257.30" y="503.60" width="118.5" height="12.6" rx="6.3" fill="url(#gpill)"/>
<circle cx="262.50" cy="509.90" r="1.25" fill="#fff" stroke="none" stroke-width="0.00"/>
<circle cx="370.70" cy="509.90" r="1.25" fill="#fff" stroke="none" stroke-width="0.00"/>
<text x="316.20" y="511.70" font-size="5.25" text-anchor="middle" font-weight="normal" fill="#fff" textLength="100.5" lengthAdjust="spacingAndGlyphs">Download CAD data at www.toyorobot.com</text>
<text x="576.20" y="502.70" font-size="6.10" text-anchor="end" font-weight="normal" fill="#333" >單位 Unit : mm</text>
<line x1="230.50" y1="583.00" x2="230.50" y2="622.00" stroke="#4a4a4a" stroke-width="0.45"/>
<line x1="410.80" y1="583.90" x2="410.80" y2="622.00" stroke="#4a4a4a" stroke-width="0.45"/>
<line x1="230.50" y1="620.40" x2="410.80" y2="620.40" stroke="#4a4a4a" stroke-width="0.45"/>
<polygon points="230.50,620.40 233.10,619.85 233.10,620.95" fill="#4a4a4a"/>
<polygon points="410.80,620.40 408.20,620.95 408.20,619.85" fill="#4a4a4a"/>
<text x="320.20" y="618.50" font-size="6.70" text-anchor="middle" font-weight="normal" fill="#3a3a3a" >L</text>
<line x1="153.70" y1="610.30" x2="410.80" y2="610.30" stroke="#4a4a4a" stroke-width="0.45"/>
<polygon points="230.50,610.30 227.90,610.85 227.90,609.75" fill="#4a4a4a"/>
<polygon points="279.20,610.30 276.60,610.85 276.60,609.75" fill="#4a4a4a"/>
<polygon points="279.20,610.30 281.80,609.75 281.80,610.85" fill="#4a4a4a"/>
<polygon points="374.90,610.30 372.30,610.85 372.30,609.75" fill="#4a4a4a"/>
<polygon points="374.90,610.30 377.50,609.75 377.50,610.85" fill="#4a4a4a"/>
<polygon points="410.80,610.30 408.20,610.85 408.20,609.75" fill="#4a4a4a"/>
<line x1="279.20" y1="556.00" x2="279.20" y2="612.00" stroke="#4a4a4a" stroke-width="0.45"/>
<text x="154.40" y="603.00" font-size="6.75" text-anchor="start" font-weight="bold" fill="#222" >滑台原點<tspan font-size="6.45" font-weight="normal" stroke="#222" stroke-width="0.12" dx="0.2">153.5</tspan></text>
<text x="154.40" y="607.90" font-size="5.70" text-anchor="start" font-weight="normal" fill="#9a9a9a" >Origin of actuator:153.5</text>
<text x="304.50" y="608.50" font-size="6.50" text-anchor="start" font-weight="bold" fill="#222" >有效行程</text>
<text x="333.50" y="608.50" font-size="5.55" text-anchor="start" font-weight="normal" fill="#9a9a9a" >Stroke</text>
<text x="392.80" y="608.70" font-size="6.70" text-anchor="middle" font-weight="normal" fill="#3a3a3a" >111</text>
<text x="154.40" y="588.30" font-size="6.75" text-anchor="start" font-weight="bold" fill="#222" >滑台機械極限<tspan font-size="6.45" font-weight="normal" stroke="#222" stroke-width="0.12" dx="0.2">76±1</tspan></text>
<text x="154.40" y="593.10" font-size="5.70" text-anchor="start" font-weight="normal" fill="#9a9a9a" >Mechanical limit:76±1</text>
<line x1="153.70" y1="594.40" x2="267.40" y2="594.40" stroke="#4a4a4a" stroke-width="0.45"/>
<polygon points="230.50,594.40 227.90,594.95 227.90,593.85" fill="#4a4a4a"/>
<polygon points="254.60,594.40 257.20,593.85 257.20,594.95" fill="#4a4a4a"/>
<line x1="254.60" y1="560.00" x2="254.60" y2="595.60" stroke="#4a4a4a" stroke-width="0.45"/>
<text x="415.90" y="588.70" font-size="6.75" text-anchor="start" font-weight="bold" fill="#222" >滑台機械極限<tspan font-size="6.45" font-weight="normal" stroke="#222" stroke-width="0.12" dx="0.2">33.5</tspan></text>
<text x="415.90" y="594.50" font-size="5.70" text-anchor="start" font-weight="normal" fill="#9a9a9a" >Mechanical limit:33.5</text>
<line x1="393.50" y1="596.00" x2="470.80" y2="596.00" stroke="#4a4a4a" stroke-width="0.45"/>
<polygon points="399.90,596.00 397.30,596.55 397.30,595.45" fill="#4a4a4a"/>
<polygon points="410.80,596.00 413.40,595.45 413.40,596.55" fill="#4a4a4a"/>
<line x1="399.90" y1="583.90" x2="399.90" y2="597.50" stroke="#4a4a4a" stroke-width="0.45"/>
<text x="279.40" y="593.30" font-size="6.70" text-anchor="middle" font-weight="normal" fill="#3a3a3a" >75</text>
<line x1="267.40" y1="594.40" x2="291.40" y2="594.40" stroke="#4a4a4a" stroke-width="0.45"/>
<polygon points="267.40,594.40 270.00,593.85 270.00,594.95" fill="#4a4a4a"/>
<polygon points="291.40,594.40 288.80,594.95 288.80,593.85" fill="#4a4a4a"/>
<line x1="267.40" y1="584.00" x2="267.40" y2="595.40" stroke="#4a4a4a" stroke-width="0.45"/>
<line x1="291.40" y1="584.00" x2="291.40" y2="595.40" stroke="#4a4a4a" stroke-width="0.45"/>
<text x="279.40" y="600.40" font-size="6.70" text-anchor="middle" font-weight="normal" fill="#3a3a3a" >135</text>
<line x1="257.70" y1="601.30" x2="300.80" y2="601.30" stroke="#4a4a4a" stroke-width="0.45"/>
<polygon points="257.70,601.30 260.30,600.75 260.30,601.85" fill="#4a4a4a"/>
<polygon points="300.80,601.30 298.20,601.85 298.20,600.75" fill="#4a4a4a"/>
<line x1="257.70" y1="584.00" x2="257.70" y2="602.30" stroke="#4a4a4a" stroke-width="0.45"/>
<line x1="300.80" y1="584.00" x2="300.80" y2="602.30" stroke="#4a4a4a" stroke-width="0.45"/>
<text x="285.00" y="551.60" font-size="6.70" text-anchor="start" font-weight="normal" fill="#3a3a3a" >2-Ø5<tspan font-family="'DejaVu Sans',sans-serif" font-size="5.6" dy="-0.2">↧</tspan><tspan dy="0.2"></tspan>8 H7</text>
<line x1="281.20" y1="552.80" x2="318.00" y2="552.80" stroke="#4a4a4a" stroke-width="0.45"/>
<line x1="281.20" y1="552.80" x2="275.70" y2="564.70" stroke="#4a4a4a" stroke-width="0.45"/>
<polygon points="275.70,564.70 276.21,562.51 277.03,562.89" fill="#4a4a4a"/>
<text x="307.00" y="592.00" font-size="6.70" text-anchor="start" font-weight="normal" fill="#3a3a3a" >4-M6<tspan font-family="'DejaVu Sans',sans-serif" font-size="5.6" dy="-0.2">↧</tspan><tspan dy="0.2"></tspan>13</text>
<line x1="303.20" y1="593.20" x2="336.00" y2="593.20" stroke="#4a4a4a" stroke-width="0.45"/>
<line x1="303.20" y1="593.20" x2="286.20" y2="577.00" stroke="#4a4a4a" stroke-width="0.45"/>
<polygon points="286.20,577.00 288.10,578.19 287.48,578.84" fill="#4a4a4a"/>
<line x1="221.60" y1="558.00" x2="246.50" y2="558.00" stroke="#4a4a4a" stroke-width="0.45"/>
<line x1="213.00" y1="583.70" x2="233.50" y2="583.70" stroke="#4a4a4a" stroke-width="0.45"/>
<line x1="223.60" y1="558.00" x2="223.60" y2="583.70" stroke="#4a4a4a" stroke-width="0.45"/>
<polygon points="223.60,558.00 224.15,560.60 223.05,560.60" fill="#4a4a4a"/>
<polygon points="223.60,583.70 223.05,581.10 224.15,581.10" fill="#4a4a4a"/>
<text x="221.60" y="571.20" font-size="6.70" text-anchor="middle" font-weight="normal" fill="#3a3a3a" transform="rotate(-90 221.60 571.20)" >82</text>
<line x1="213.00" y1="535.10" x2="233.50" y2="535.10" stroke="#4a4a4a" stroke-width="0.45"/>
<line x1="215.10" y1="535.10" x2="215.10" y2="583.70" stroke="#4a4a4a" stroke-width="0.45"/>
<polygon points="215.10,535.10 215.65,537.70 214.55,537.70" fill="#4a4a4a"/>
<polygon points="215.10,583.70 214.55,581.10 215.65,581.10" fill="#4a4a4a"/>
<text x="213.20" y="558.80" font-size="6.70" text-anchor="middle" font-weight="normal" fill="#3a3a3a" transform="rotate(-90 213.20 558.80)" >156</text>
<rect x="299.20" y="558.30" width="111.60" height="25.30" fill="#e5e5e6" stroke="#3a3a3a" stroke-width="0.50"/>
<rect x="299.20" y="561.85" width="111.60" height="2.00" fill="#c2c2c2" stroke="none" stroke-width="0.00"/>
<line x1="299.20" y1="561.85" x2="410.80" y2="561.85" stroke="#999" stroke-width="0.25"/>
<line x1="299.20" y1="563.85" x2="410.80" y2="563.85" stroke="#999" stroke-width="0.25"/>
<rect x="299.20" y="578.30" width="111.60" height="2.00" fill="#c2c2c2" stroke="none" stroke-width="0.00"/>
<line x1="299.20" y1="578.30" x2="410.80" y2="578.30" stroke="#999" stroke-width="0.25"/>
<line x1="299.20" y1="580.30" x2="410.80" y2="580.30" stroke="#999" stroke-width="0.25"/>
<line x1="299.20" y1="570.95" x2="410.80" y2="570.95" stroke="#c4c4c4" stroke-width="1.20" stroke-dasharray="34 3 5 3"/>
<line x1="299.20" y1="558.30" x2="410.80" y2="558.30" stroke="#505050" stroke-width="0.80"/>
<line x1="299.20" y1="583.60" x2="410.80" y2="583.60" stroke="#505050" stroke-width="0.80"/>
<rect x="353.10" y="559.20" width="44.10" height="23.50" fill="none" stroke="#777" stroke-width="0.40" rx="2.40"/>
<rect x="400.40" y="558.30" width="10.40" height="25.30" fill="#eeeeee" stroke="#3a3a3a" stroke-width="0.45"/>
<rect x="400.40" y="558.30" width="10.40" height="1.90" fill="#dcdcdc" stroke="none" stroke-width="0.00"/>
<rect x="400.40" y="581.70" width="10.40" height="1.90" fill="#dcdcdc" stroke="none" stroke-width="0.00"/>
<line x1="405.40" y1="558.30" x2="405.40" y2="583.60" stroke="#777" stroke-width="0.35"/>
<line x1="408.10" y1="558.30" x2="408.10" y2="583.60" stroke="#777" stroke-width="0.35"/>
<rect x="402.60" y="565.35" width="2.60" height="1.80" fill="#777" stroke="#444" stroke-width="0.30"/>
<rect x="402.60" y="574.75" width="2.60" height="1.80" fill="#777" stroke="#444" stroke-width="0.30"/>
<line x1="300.20" y1="558.30" x2="410.80" y2="558.30" stroke="#505050" stroke-width="0.80"/>
<line x1="300.20" y1="583.60" x2="410.80" y2="583.60" stroke="#505050" stroke-width="0.80"/>
<line x1="410.80" y1="558.00" x2="410.80" y2="583.90" stroke="#444" stroke-width="0.50"/>
<rect x="365.70" y="580.40" width="16.40" height="5.20" fill="#e8e8e8" stroke="#3a3a3a" stroke-width="0.50" rx="0.80"/>
<rect x="367.30" y="581.90" width="8.80" height="2.30" fill="#fff" stroke="#3a3a3a" stroke-width="0.35"/>
<rect x="377.90" y="581.40" width="3.20" height="3.00" fill="#555" stroke="#3a3a3a" stroke-width="0.30"/>
<rect x="244.50" y="558.00" width="13.00" height="25.90" fill="#ececec" stroke="#3a3a3a" stroke-width="0.50"/>
<rect x="248.90" y="562.75" width="3.00" height="16.40" fill="#fff" stroke="#3a3a3a" stroke-width="0.35"/>
<rect x="249.50" y="567.15" width="1.80" height="4.00" fill="#ccc" stroke="#3a3a3a" stroke-width="0.30"/>
<line x1="254.10" y1="558.00" x2="254.10" y2="583.90" stroke="#777" stroke-width="0.35"/>
<rect x="257.50" y="557.80" width="42.70" height="26.30" fill="#ececec" stroke="#3a3a3a" stroke-width="0.50"/>
<rect x="263.30" y="557.80" width="30.30" height="26.30" fill="#e4e4e4" stroke="#3a3a3a" stroke-width="0.45"/>
<rect x="265.90" y="559.50" width="3.80" height="3.40" fill="#fff" stroke="#333" stroke-width="0.45"/>
<line x1="266.40" y1="561.20" x2="269.20" y2="561.20" stroke="#222" stroke-width="0.60"/>
<line x1="267.80" y1="559.90" x2="267.80" y2="562.50" stroke="#222" stroke-width="0.60"/>
<rect x="277.30" y="559.50" width="3.80" height="3.40" fill="#fff" stroke="#333" stroke-width="0.45"/>
<line x1="277.80" y1="561.20" x2="280.60" y2="561.20" stroke="#222" stroke-width="0.60"/>
<line x1="279.20" y1="559.90" x2="279.20" y2="562.50" stroke="#222" stroke-width="0.60"/>
<rect x="288.70" y="559.50" width="3.80" height="3.40" fill="#fff" stroke="#333" stroke-width="0.45"/>
<line x1="289.20" y1="561.20" x2="292.00" y2="561.20" stroke="#222" stroke-width="0.60"/>
<line x1="290.60" y1="559.90" x2="290.60" y2="562.50" stroke="#222" stroke-width="0.60"/>
<circle cx="273.50" cy="561.20" r="0.80" fill="#555" stroke="none" stroke-width="0.00"/>
<circle cx="284.90" cy="561.20" r="0.80" fill="#555" stroke="none" stroke-width="0.00"/>
<rect x="265.90" y="579.00" width="3.80" height="3.40" fill="#fff" stroke="#333" stroke-width="0.45"/>
<line x1="266.40" y1="580.70" x2="269.20" y2="580.70" stroke="#222" stroke-width="0.60"/>
<line x1="267.80" y1="579.40" x2="267.80" y2="582.00" stroke="#222" stroke-width="0.60"/>
<rect x="277.30" y="579.00" width="3.80" height="3.40" fill="#fff" stroke="#333" stroke-width="0.45"/>
<line x1="277.80" y1="580.70" x2="280.60" y2="580.70" stroke="#222" stroke-width="0.60"/>
<line x1="279.20" y1="579.40" x2="279.20" y2="582.00" stroke="#222" stroke-width="0.60"/>
<rect x="288.70" y="579.00" width="3.80" height="3.40" fill="#fff" stroke="#333" stroke-width="0.45"/>
<line x1="289.20" y1="580.70" x2="292.00" y2="580.70" stroke="#222" stroke-width="0.60"/>
<line x1="290.60" y1="579.40" x2="290.60" y2="582.00" stroke="#222" stroke-width="0.60"/>
<circle cx="273.50" cy="580.70" r="0.80" fill="#555" stroke="none" stroke-width="0.00"/>
<circle cx="284.90" cy="580.70" r="0.80" fill="#555" stroke="none" stroke-width="0.00"/>
<line x1="279.20" y1="553.80" x2="279.20" y2="588.10" stroke="#555" stroke-width="0.35" stroke-dasharray="4 1 1 1"/>
<path d="M261.70 584.10 L263.70 585.80 H293.80 L295.80 584.10 Z" fill="#ececec" stroke="#3a3a3a" stroke-width="0.45" stroke-linejoin="round" />
<rect x="274.80" y="583.60" width="8.80" height="1.20" fill="#333" stroke="none" stroke-width="0.00"/>
<path d="M257.89 536.60 v-2.20 q0 -1.60 1.6 -1.60 q1.6 0 1.6 1.60 v2.20 z" fill="#f0f0f0" stroke="#3a3a3a" stroke-width="0.45" stroke-linejoin="round" />
<path d="M268.58 536.60 v-1.20 l2.4 -2.60 l2.4 2.60 v1.20 z" fill="#f0f0f0" stroke="#3a3a3a" stroke-width="0.45" stroke-linejoin="round" />
<rect x="244.50" y="536.60" width="2.40" height="18.80" fill="#e9e9e9" stroke="#3a3a3a" stroke-width="0.45"/>
<rect x="246.90" y="537.00" width="16.74" height="18.00" fill="#ebebeb" stroke="#3a3a3a" stroke-width="0.45"/>
<path d="M263.64 536.60 H274.80 Q276.40 536.60 276.40 538.20 V553.80 Q276.40 555.40 274.80 555.40 H263.64 Z" fill="#ebebeb" stroke="#3a3a3a" stroke-width="0.50" stroke-linejoin="round" />
<rect x="246.90" y="538.86" width="29.50" height="2.82" fill="#f8f8f8" stroke="none" stroke-width="0.00"/>
<line x1="246.90" y1="538.86" x2="276.40" y2="538.86" stroke="#7a7a7a" stroke-width="0.40"/>
<line x1="246.90" y1="541.68" x2="276.40" y2="541.68" stroke="#7a7a7a" stroke-width="0.40"/>
<line x1="246.90" y1="546.00" x2="276.40" y2="546.00" stroke="#7a7a7a" stroke-width="0.40"/>
<line x1="246.90" y1="550.32" x2="276.40" y2="550.32" stroke="#7a7a7a" stroke-width="0.40"/>
<line x1="246.90" y1="553.14" x2="276.40" y2="553.14" stroke="#7a7a7a" stroke-width="0.40"/>
<line x1="263.64" y1="536.40" x2="263.64" y2="555.60" stroke="#3a3a3a" stroke-width="0.90"/>
<path d="M244.50 535.10 H233.30 Q230.50 535.10 230.50 537.90 V579.40 Q230.50 582.20 233.30 582.20 H244.50 Z" fill="#e9e9e9" stroke="#3a3a3a" stroke-width="0.55" stroke-linejoin="round" />
<path d="M240.70 536.10 H234.30 Q231.50 536.10 231.50 538.90 V578.40 Q231.50 581.20 234.30 581.20 H240.70" fill="none" stroke="#8a8a8a" stroke-width="0.30" stroke-linejoin="round" />
<rect x="233.70" y="536.10" width="2.40" height="2.00" fill="#f6f6f6" stroke="#555" stroke-width="0.35"/>
<rect x="233.70" y="579.20" width="2.40" height="2.00" fill="#f6f6f6" stroke="#555" stroke-width="0.35"/>
<line x1="240.70" y1="535.10" x2="240.70" y2="582.20" stroke="#666" stroke-width="0.35"/>
<line x1="228.50" y1="570.95" x2="412.80" y2="570.95" stroke="#858585" stroke-width="0.35" stroke-dasharray="7 1.2 1.2 1.2"/>
<line x1="236.50" y1="546.00" x2="252.50" y2="546.00" stroke="#777" stroke-width="0.30" stroke-dasharray="3 1 1 1"/>
<line x1="374.90" y1="556.00" x2="374.90" y2="612.00" stroke="#555" stroke-width="0.40" stroke-dasharray="8 1.2 1.5 1.2"/>
<text x="178.20" y="627.90" font-size="6.70" text-anchor="middle" font-weight="normal" fill="#3a3a3a" >146</text>
<line x1="154.20" y1="629.20" x2="201.50" y2="629.20" stroke="#4a4a4a" stroke-width="0.45"/>
<polygon points="154.20,629.20 156.80,628.65 156.80,629.75" fill="#4a4a4a"/>
<polygon points="201.50,629.20 198.90,629.75 198.90,628.65" fill="#4a4a4a"/>
<line x1="154.20" y1="628.00" x2="154.20" y2="637.00" stroke="#4a4a4a" stroke-width="0.45"/>
<line x1="201.50" y1="628.00" x2="201.50" y2="637.00" stroke="#4a4a4a" stroke-width="0.45"/>
<g transform="translate(355.70 0) scale(-1 1)">
<path d="M151.60 660.40 V637.00 H152.60 L153.80 635.70 V635.70 H177.70 V637.50 H180.00 V660.40 H151.60 Z" fill="#ededed" stroke="#3a3a3a" stroke-width="0.50" stroke-linejoin="round" />
<line x1="177.70" y1="635.70" x2="180.00" y2="637.50" stroke="#4a4a4a" stroke-width="0.45"/>
<rect x="152.60" y="659.00" width="27.40" height="1.40" fill="#e2e2e2" stroke="#3a3a3a" stroke-width="0.45"/>
<rect x="175.80" y="657.40" width="1.60" height="1.80" fill="#fff" stroke="#3a3a3a" stroke-width="0.35"/>
<rect x="150.00" y="641.20" width="3.60" height="5.80" fill="#777" stroke="#333" stroke-width="0.35"/>
<rect x="150.80" y="642.40" width="2.00" height="3.20" fill="#ddd" stroke="#333" stroke-width="0.30"/>
<path d="M201.50 645.50 h1.2 q1.9 0 1.9 2.3 q0 2.3 -1.9 2.3 h-1.2 z" fill="#ededed" stroke="#3a3a3a" stroke-width="0.45" stroke-linejoin="round" />
<rect x="154.20" y="637.20" width="47.30" height="20.60" fill="#ececec" stroke="#3a3a3a" stroke-width="0.60" rx="2.40"/>
<rect x="155.50" y="638.40" width="44.70" height="18.20" fill="none" stroke="#8a8a8a" stroke-width="0.30" rx="1.80"/>
<circle cx="158.20" cy="640.20" r="0.75" fill="#fff" stroke="#444" stroke-width="0.35"/>
<circle cx="199.30" cy="640.20" r="0.75" fill="#fff" stroke="#444" stroke-width="0.35"/>
<circle cx="158.20" cy="655.20" r="0.75" fill="#fff" stroke="#444" stroke-width="0.35"/>
<circle cx="199.30" cy="655.20" r="0.75" fill="#fff" stroke="#444" stroke-width="0.35"/>
<circle cx="155.80" cy="639.00" r="1.10" fill="#eee" stroke="#444" stroke-width="0.35"/>
<rect x="169.40" y="644.40" width="16.40" height="6.40" fill="#f6f6f6" stroke="none" stroke-width="0.00"/>
<text x="177.60" y="648.40" font-size="4.6" font-weight="bold" font-style="italic" text-anchor="middle" fill="#444" stroke="#444" stroke-width="0.35" textLength="15.6" lengthAdjust="spacingAndGlyphs" transform="translate(355.20 0) scale(-1 1)">TOYO</text>
<rect x="169.60" y="649.40" width="16.00" height="0.90" fill="#666" stroke="none" stroke-width="0.00"/>
</g>
<line x1="149.20" y1="647.80" x2="207.50" y2="647.80" stroke="#858585" stroke-width="0.35" stroke-dasharray="7 1.2 1.2 1.2"/>
<rect x="248.10" y="640.70" width="162.70" height="19.70" fill="#e4e4e4" stroke="#3a3a3a" stroke-width="0.55"/>
<line x1="248.10" y1="650.55" x2="404.80" y2="650.55" stroke="#fbfbfb" stroke-width="1.60"/>
<line x1="248.10" y1="649.37" x2="404.80" y2="649.37" stroke="#808080" stroke-width="0.35"/>
<line x1="248.10" y1="651.73" x2="404.80" y2="651.73" stroke="#808080" stroke-width="0.35"/>
<line x1="248.10" y1="653.70" x2="404.80" y2="653.70" stroke="#808080" stroke-width="0.35"/>
<line x1="248.10" y1="656.85" x2="404.80" y2="656.85" stroke="#808080" stroke-width="0.35"/>
<line x1="248.10" y1="640.70" x2="410.80" y2="640.70" stroke="#444" stroke-width="0.90"/>
<line x1="248.10" y1="660.40" x2="410.80" y2="660.40" stroke="#444" stroke-width="0.90"/>
<rect x="404.80" y="640.40" width="6.00" height="19.40" fill="#ececec" stroke="#3a3a3a" stroke-width="0.50"/>
<rect x="402.80" y="644.80" width="1.60" height="2.80" fill="#999" stroke="#3a3a3a" stroke-width="0.30"/>
<path d="M258.00 640.70 L262.50 636.40 H292.20 L296.80 639.20 V640.70 H258.00 Z" fill="#ececec" stroke="#3a3a3a" stroke-width="0.45" stroke-linejoin="round" />
<rect x="261.50" y="639.00" width="34.70" height="6.70" fill="#e2e2e2" stroke="#3a3a3a" stroke-width="0.45"/>
<rect x="274.20" y="637.60" width="10.00" height="7.40" fill="#fff" stroke="#3a3a3a" stroke-width="0.45"/>
<rect x="275.80" y="638.20" width="6.80" height="1.80" fill="#555" stroke="#3a3a3a" stroke-width="0.30"/>
<path d="M276.80 641.20 L279.20 645.60 L281.60 641.20" fill="none" stroke="#3a3a3a" stroke-width="0.50" stroke-linejoin="round" />
<rect x="364.60" y="641.20" width="16.60" height="5.60" fill="#eee" stroke="#3a3a3a" stroke-width="0.50"/>
<rect x="365.90" y="642.20" width="10.00" height="2.60" fill="#fff" stroke="#3a3a3a" stroke-width="0.30"/>
<rect x="377.40" y="641.60" width="3.10" height="4.60" fill="#555" stroke="#3a3a3a" stroke-width="0.30"/>
<rect x="244.50" y="638.00" width="3.60" height="22.40" fill="#ececec" stroke="#3a3a3a" stroke-width="0.50"/>
<path d="M244.50 638.00 H233.10 Q230.50 638.00 230.50 640.60 V654.70 Q230.50 657.30 233.10 657.30 H244.50 Z" fill="#e9e9e9" stroke="#3a3a3a" stroke-width="0.55" stroke-linejoin="round" />
<path d="M240.70 639.00 H234.10 Q231.50 639.00 231.50 641.60 V653.70 Q231.50 656.30 234.10 656.30 H240.70" fill="none" stroke="#8a8a8a" stroke-width="0.30" stroke-linejoin="round" />
<rect x="233.70" y="639.00" width="2.40" height="2.00" fill="#f6f6f6" stroke="#555" stroke-width="0.35"/>
<rect x="233.70" y="654.30" width="2.40" height="2.00" fill="#f6f6f6" stroke="#555" stroke-width="0.35"/>
<line x1="240.70" y1="638.00" x2="240.70" y2="657.30" stroke="#666" stroke-width="0.35"/>
<line x1="240.90" y1="638.00" x2="240.90" y2="657.30" stroke="#777" stroke-width="0.35"/>
<rect x="248.90" y="646.20" width="1.60" height="2.40" fill="#ccc" stroke="#3a3a3a" stroke-width="0.30"/>
<rect x="247.90" y="687.70" width="162.90" height="26.20" fill="#e5e5e6" stroke="#3a3a3a" stroke-width="0.50"/>
<rect x="247.90" y="693.25" width="162.90" height="2.00" fill="#c2c2c2" stroke="none" stroke-width="0.00"/>
<line x1="247.90" y1="693.25" x2="410.80" y2="693.25" stroke="#999" stroke-width="0.25"/>
<line x1="247.90" y1="695.25" x2="410.80" y2="695.25" stroke="#999" stroke-width="0.25"/>
<rect x="247.90" y="706.87" width="162.90" height="2.00" fill="#c2c2c2" stroke="none" stroke-width="0.00"/>
<line x1="247.90" y1="706.87" x2="410.80" y2="706.87" stroke="#999" stroke-width="0.25"/>
<line x1="247.90" y1="708.87" x2="410.80" y2="708.87" stroke="#999" stroke-width="0.25"/>
<line x1="247.90" y1="700.80" x2="410.80" y2="700.80" stroke="#c4c4c4" stroke-width="1.20" stroke-dasharray="34 3 5 3"/>
<line x1="247.90" y1="687.70" x2="410.80" y2="687.70" stroke="#505050" stroke-width="0.80"/>
<line x1="247.90" y1="713.90" x2="410.80" y2="713.90" stroke="#505050" stroke-width="0.80"/>
<rect x="405.80" y="687.70" width="5.00" height="26.20" fill="#ececec" stroke="#3a3a3a" stroke-width="0.50"/>
<rect x="244.50" y="687.90" width="3.40" height="25.80" fill="#ececec" stroke="#3a3a3a" stroke-width="0.50"/>
<path d="M257.89 735.60 v2.20 q0 1.60 1.6 1.60 q1.6 0 1.6 -1.60 v-2.20 z" fill="#f0f0f0" stroke="#3a3a3a" stroke-width="0.45" stroke-linejoin="round" />
<path d="M268.58 735.60 v1.20 l2.4 2.60 l2.4 -2.60 v-1.20 z" fill="#f0f0f0" stroke="#3a3a3a" stroke-width="0.45" stroke-linejoin="round" />
<rect x="244.50" y="716.40" width="2.40" height="19.20" fill="#e9e9e9" stroke="#3a3a3a" stroke-width="0.45"/>
<rect x="246.90" y="716.80" width="16.74" height="18.40" fill="#ebebeb" stroke="#3a3a3a" stroke-width="0.45"/>
<path d="M263.64 716.40 H274.80 Q276.40 716.40 276.40 718.00 V734.00 Q276.40 735.60 274.80 735.60 H263.64 Z" fill="#ebebeb" stroke="#3a3a3a" stroke-width="0.50" stroke-linejoin="round" />
<rect x="246.90" y="718.70" width="29.50" height="2.88" fill="#f8f8f8" stroke="none" stroke-width="0.00"/>
<line x1="246.90" y1="718.70" x2="276.40" y2="718.70" stroke="#7a7a7a" stroke-width="0.40"/>
<line x1="246.90" y1="721.58" x2="276.40" y2="721.58" stroke="#7a7a7a" stroke-width="0.40"/>
<line x1="246.90" y1="726.00" x2="276.40" y2="726.00" stroke="#7a7a7a" stroke-width="0.40"/>
<line x1="246.90" y1="730.42" x2="276.40" y2="730.42" stroke="#7a7a7a" stroke-width="0.40"/>
<line x1="246.90" y1="733.30" x2="276.40" y2="733.30" stroke="#7a7a7a" stroke-width="0.40"/>
<line x1="263.64" y1="716.20" x2="263.64" y2="735.80" stroke="#3a3a3a" stroke-width="0.90"/>
<path d="M244.50 690.30 H233.30 Q230.50 690.30 230.50 693.10 V734.70 Q230.50 737.50 233.30 737.50 H244.50 Z" fill="#e9e9e9" stroke="#3a3a3a" stroke-width="0.55" stroke-linejoin="round" />
<path d="M240.70 691.30 H234.30 Q231.50 691.30 231.50 694.10 V733.70 Q231.50 736.50 234.30 736.50 H240.70" fill="none" stroke="#8a8a8a" stroke-width="0.30" stroke-linejoin="round" />
<rect x="233.70" y="691.30" width="2.40" height="2.00" fill="#f6f6f6" stroke="#555" stroke-width="0.35"/>
<rect x="233.70" y="734.50" width="2.40" height="2.00" fill="#f6f6f6" stroke="#555" stroke-width="0.35"/>
<line x1="240.70" y1="690.30" x2="240.70" y2="737.50" stroke="#666" stroke-width="0.35"/>
<line x1="228.50" y1="700.80" x2="412.80" y2="700.80" stroke="#858585" stroke-width="0.35" stroke-dasharray="7 1.2 1.2 1.2"/>
<line x1="236.50" y1="726.00" x2="270.50" y2="726.00" stroke="#777" stroke-width="0.30" stroke-dasharray="3 1 1 1"/>
<circle cx="257.50" cy="689.80" r="1.00" fill="#555" stroke="none" stroke-width="0.00"/>
<line x1="255.90" y1="689.80" x2="259.10" y2="689.80" stroke="#333" stroke-width="0.30"/>
<line x1="257.50" y1="688.20" x2="257.50" y2="691.40" stroke="#333" stroke-width="0.30"/>
<circle cx="257.50" cy="711.30" r="1.00" fill="#555" stroke="none" stroke-width="0.00"/>
<line x1="255.90" y1="711.30" x2="259.10" y2="711.30" stroke="#333" stroke-width="0.30"/>
<line x1="257.50" y1="709.70" x2="257.50" y2="712.90" stroke="#333" stroke-width="0.30"/>
<circle cx="289.30" cy="689.80" r="1.00" fill="#555" stroke="none" stroke-width="0.00"/>
<line x1="287.70" y1="689.80" x2="290.90" y2="689.80" stroke="#333" stroke-width="0.30"/>
<line x1="289.30" y1="688.20" x2="289.30" y2="691.40" stroke="#333" stroke-width="0.30"/>
<circle cx="289.30" cy="711.30" r="1.00" fill="#555" stroke="none" stroke-width="0.00"/>
<line x1="287.70" y1="711.30" x2="290.90" y2="711.30" stroke="#333" stroke-width="0.30"/>
<line x1="289.30" y1="709.70" x2="289.30" y2="712.90" stroke="#333" stroke-width="0.30"/>
<circle cx="321.10" cy="689.80" r="1.00" fill="#555" stroke="none" stroke-width="0.00"/>
<line x1="319.50" y1="689.80" x2="322.70" y2="689.80" stroke="#333" stroke-width="0.30"/>
<line x1="321.10" y1="688.20" x2="321.10" y2="691.40" stroke="#333" stroke-width="0.30"/>
<circle cx="321.10" cy="711.30" r="1.00" fill="#555" stroke="none" stroke-width="0.00"/>
<line x1="319.50" y1="711.30" x2="322.70" y2="711.30" stroke="#333" stroke-width="0.30"/>
<line x1="321.10" y1="709.70" x2="321.10" y2="712.90" stroke="#333" stroke-width="0.30"/>
<circle cx="353.00" cy="689.80" r="1.00" fill="#555" stroke="none" stroke-width="0.00"/>
<line x1="351.40" y1="689.80" x2="354.60" y2="689.80" stroke="#333" stroke-width="0.30"/>
<line x1="353.00" y1="688.20" x2="353.00" y2="691.40" stroke="#333" stroke-width="0.30"/>
<circle cx="353.00" cy="711.30" r="1.00" fill="#555" stroke="none" stroke-width="0.00"/>
<line x1="351.40" y1="711.30" x2="354.60" y2="711.30" stroke="#333" stroke-width="0.30"/>
<line x1="353.00" y1="709.70" x2="353.00" y2="712.90" stroke="#333" stroke-width="0.30"/>
<circle cx="384.80" cy="689.80" r="1.00" fill="#555" stroke="none" stroke-width="0.00"/>
<line x1="383.20" y1="689.80" x2="386.40" y2="689.80" stroke="#333" stroke-width="0.30"/>
<line x1="384.80" y1="688.20" x2="384.80" y2="691.40" stroke="#333" stroke-width="0.30"/>
<circle cx="384.80" cy="711.30" r="1.00" fill="#555" stroke="none" stroke-width="0.00"/>
<line x1="383.20" y1="711.30" x2="386.40" y2="711.30" stroke="#333" stroke-width="0.30"/>
<line x1="384.80" y1="709.70" x2="384.80" y2="712.90" stroke="#333" stroke-width="0.30"/>
<circle cx="257.50" cy="700.80" r="0.80" fill="#555" stroke="none" stroke-width="0.00"/>
<line x1="255.90" y1="700.80" x2="259.10" y2="700.80" stroke="#333" stroke-width="0.30"/>
<line x1="257.50" y1="699.20" x2="257.50" y2="702.40" stroke="#333" stroke-width="0.30"/>
<circle cx="289.30" cy="700.80" r="0.80" fill="#555" stroke="none" stroke-width="0.00"/>
<line x1="287.70" y1="700.80" x2="290.90" y2="700.80" stroke="#333" stroke-width="0.30"/>
<line x1="289.30" y1="699.20" x2="289.30" y2="702.40" stroke="#333" stroke-width="0.30"/>
<line x1="230.50" y1="670.50" x2="230.50" y2="752.40" stroke="#4a4a4a" stroke-width="0.45"/>
<line x1="257.50" y1="670.50" x2="257.50" y2="752.40" stroke="#4a4a4a" stroke-width="0.45"/>
<line x1="289.30" y1="687.00" x2="289.30" y2="752.40" stroke="#4a4a4a" stroke-width="0.45"/>
<line x1="353.00" y1="670.50" x2="353.00" y2="689.00" stroke="#4a4a4a" stroke-width="0.45"/>
<line x1="384.80" y1="670.50" x2="384.80" y2="752.40" stroke="#4a4a4a" stroke-width="0.45"/>
<line x1="410.80" y1="670.50" x2="410.80" y2="687.70" stroke="#4a4a4a" stroke-width="0.45"/>
<line x1="230.50" y1="672.60" x2="410.80" y2="672.60" stroke="#4a4a4a" stroke-width="0.45"/>
<polygon points="230.50,672.60 233.10,672.05 233.10,673.15" fill="#4a4a4a"/>
<polygon points="257.50,672.60 254.90,673.15 254.90,672.05" fill="#4a4a4a"/>
<polygon points="257.50,672.60 260.10,672.05 260.10,673.15" fill="#4a4a4a"/>
<polygon points="353.00,672.60 350.40,673.15 350.40,672.05" fill="#4a4a4a"/>
<polygon points="353.00,672.60 355.60,672.05 355.60,673.15" fill="#4a4a4a"/>
<polygon points="384.80,672.60 382.20,673.15 382.20,672.05" fill="#4a4a4a"/>
<polygon points="384.80,672.60 387.40,672.05 387.40,673.15" fill="#4a4a4a"/>
<polygon points="410.80,672.60 408.20,673.15 408.20,672.05" fill="#4a4a4a"/>
<text x="243.70" y="671.00" font-size="6.70" text-anchor="middle" font-weight="normal" fill="#3a3a3a" >84.5</text>
<text x="305.00" y="671.00" font-size="6.70" text-anchor="middle" font-weight="normal" fill="#3a3a3a" >M*100</text>
<text x="367.60" y="671.00" font-size="6.70" text-anchor="middle" font-weight="normal" fill="#3a3a3a" >A</text>
<text x="394.60" y="671.00" font-size="6.70" text-anchor="middle" font-weight="normal" fill="#3a3a3a" >80</text>
<line x1="230.50" y1="750.80" x2="384.80" y2="750.80" stroke="#4a4a4a" stroke-width="0.45"/>
<polygon points="230.50,750.80 233.10,750.25 233.10,751.35" fill="#4a4a4a"/>
<polygon points="257.50,750.80 254.90,751.35 254.90,750.25" fill="#4a4a4a"/>
<polygon points="257.50,750.80 260.10,750.25 260.10,751.35" fill="#4a4a4a"/>
<polygon points="289.30,750.80 286.70,751.35 286.70,750.25" fill="#4a4a4a"/>
<polygon points="289.30,750.80 291.90,750.25 291.90,751.35" fill="#4a4a4a"/>
<polygon points="384.80,750.80 382.20,751.35 382.20,750.25" fill="#4a4a4a"/>
<text x="243.70" y="749.30" font-size="6.70" text-anchor="middle" font-weight="normal" fill="#3a3a3a" >84.5</text>
<text x="273.20" y="749.30" font-size="6.70" text-anchor="middle" font-weight="normal" fill="#3a3a3a" textLength="27" lengthAdjust="spacingAndGlyphs">100±0.02</text>
<text x="335.40" y="749.30" font-size="6.70" text-anchor="middle" font-weight="normal" fill="#3a3a3a" >P</text>
<text x="291.00" y="681.00" font-size="6.70" text-anchor="start" font-weight="normal" fill="#3a3a3a" >N-M6<tspan font-family="'DejaVu Sans',sans-serif" font-size="5.6" dy="-0.2">↧</tspan><tspan dy="0.2"></tspan>15+Ø5.4-thr.</text>
<line x1="291.00" y1="682.20" x2="348.20" y2="682.20" stroke="#4a4a4a" stroke-width="0.45"/>
<line x1="348.20" y1="682.20" x2="357.20" y2="694.20" stroke="#4a4a4a" stroke-width="0.45"/>
<polygon points="357.20,694.20 355.52,692.71 356.24,692.17" fill="#4a4a4a"/>
<text x="302.20" y="721.80" font-size="6.70" text-anchor="start" font-weight="normal" fill="#3a3a3a" >2-Ø5<tspan font-family="'DejaVu Sans',sans-serif" font-size="5.6" dy="-0.2">↧</tspan><tspan dy="0.2"></tspan>9 H7</text>
<line x1="300.30" y1="723.00" x2="335.00" y2="723.00" stroke="#4a4a4a" stroke-width="0.45"/>
<line x1="300.30" y1="723.00" x2="285.50" y2="694.20" stroke="#4a4a4a" stroke-width="0.45"/>
<polygon points="285.50,694.20 286.91,695.95 286.11,696.36" fill="#4a4a4a"/>
<text x="372.40" y="685.00" font-size="6.70" text-anchor="start" font-weight="normal" fill="#29abe2" >B</text>
<line x1="376.20" y1="685.20" x2="383.00" y2="697.80" stroke="#555" stroke-width="0.40"/>
<circle cx="384.80" cy="700.70" r="3.40" fill="none" stroke="#29abe2" stroke-width="0.80"/>
<circle cx="384.80" cy="700.70" r="1.20" fill="#666" stroke="none" stroke-width="0.00"/>
<text x="392.00" y="685.80" font-size="6.70" text-anchor="start" font-weight="normal" fill="#f7931e" >C</text>
<line x1="385.80" y1="684.00" x2="390.00" y2="684.00" stroke="#4a4a4a" stroke-width="0.50"/>
<text x="392.00" y="721.00" font-size="6.70" text-anchor="start" font-weight="normal" fill="#f7931e" >C</text>
<line x1="385.80" y1="717.80" x2="390.00" y2="717.80" stroke="#4a4a4a" stroke-width="0.50"/>
<line x1="410.80" y1="687.70" x2="432.00" y2="687.70" stroke="#4a4a4a" stroke-width="0.45"/>
<line x1="410.80" y1="713.90" x2="432.00" y2="713.90" stroke="#4a4a4a" stroke-width="0.45"/>
<line x1="410.80" y1="690.50" x2="423.60" y2="690.50" stroke="#4a4a4a" stroke-width="0.45"/>
<line x1="410.80" y1="711.70" x2="423.60" y2="711.70" stroke="#4a4a4a" stroke-width="0.45"/>
<line x1="421.80" y1="690.50" x2="421.80" y2="711.70" stroke="#4a4a4a" stroke-width="0.45"/>
<polygon points="421.80,690.50 422.35,693.10 421.25,693.10" fill="#4a4a4a"/>
<polygon points="421.80,711.70 421.25,709.10 422.35,709.10" fill="#4a4a4a"/>
<line x1="430.00" y1="687.70" x2="430.00" y2="713.90" stroke="#4a4a4a" stroke-width="0.45"/>
<polygon points="430.00,687.70 430.55,690.30 429.45,690.30" fill="#4a4a4a"/>
<polygon points="430.00,713.90 429.45,711.30 430.55,711.30" fill="#4a4a4a"/>
<text x="420.00" y="701.00" font-size="6.70" text-anchor="middle" font-weight="normal" fill="#3a3a3a" transform="rotate(-90 420.00 701.00)" >68</text>
<text x="428.30" y="701.00" font-size="6.70" text-anchor="middle" font-weight="normal" fill="#3a3a3a" transform="rotate(-90 428.30 701.00)" >82</text>
<text x="488.60" y="617.90" font-size="6.70" text-anchor="middle" font-weight="normal" fill="#3a3a3a" >81</text>
<line x1="476.40" y1="619.10" x2="502.50" y2="619.10" stroke="#4a4a4a" stroke-width="0.45"/>
<polygon points="476.40,619.10 479.00,618.55 479.00,619.65" fill="#4a4a4a"/>
<polygon points="502.50,619.10 499.90,619.65 499.90,618.55" fill="#4a4a4a"/>
<line x1="476.40" y1="617.90" x2="476.40" y2="636.00" stroke="#4a4a4a" stroke-width="0.45"/>
<line x1="502.50" y1="617.90" x2="502.50" y2="636.00" stroke="#4a4a4a" stroke-width="0.45"/>
<text x="488.60" y="626.40" font-size="6.70" text-anchor="middle" font-weight="normal" fill="#3a3a3a" >65</text>
<line x1="478.60" y1="627.60" x2="500.10" y2="627.60" stroke="#4a4a4a" stroke-width="0.45"/>
<polygon points="478.60,627.60 481.20,627.05 481.20,628.15" fill="#4a4a4a"/>
<polygon points="500.10,627.60 497.50,628.15 497.50,627.05" fill="#4a4a4a"/>
<line x1="478.60" y1="626.40" x2="478.60" y2="636.00" stroke="#4a4a4a" stroke-width="0.45"/>
<line x1="500.10" y1="626.40" x2="500.10" y2="636.00" stroke="#4a4a4a" stroke-width="0.45"/>
<g transform="translate(978.90 0) scale(-1 1)">
<line x1="456.30" y1="636.90" x2="476.40" y2="636.90" stroke="#444" stroke-width="0.50"/>
<path d="M456.30 637.30 H472.40 L475.30 640.20 V654.90 L472.40 657.80 H456.30 L453.40 654.90 V640.20 Z" fill="#dedede" stroke="#3a3a3a" stroke-width="0.55" stroke-linejoin="round" />
<path d="M456.30 637.30 L453.40 640.20 L456.44 640.34 Z" fill="#8c8c8c" stroke="#555" stroke-width="0.30" stroke-linejoin="round" />
<path d="M472.40 637.30 L475.30 640.20 L472.25 640.34 Z" fill="#8c8c8c" stroke="#555" stroke-width="0.30" stroke-linejoin="round" />
<path d="M456.30 657.80 L453.40 654.90 L456.44 654.75 Z" fill="#8c8c8c" stroke="#555" stroke-width="0.30" stroke-linejoin="round" />
<path d="M472.40 657.80 L475.30 654.90 L472.25 654.75 Z" fill="#8c8c8c" stroke="#555" stroke-width="0.30" stroke-linejoin="round" />
<circle cx="464.35" cy="647.55" r="9.75" fill="#ececec" stroke="#3a3a3a" stroke-width="0.45"/>
<path d="M453.40 645.15 q-2.8 2.4 0 4.8" fill="#e4e4e4" stroke="#3a3a3a" stroke-width="0.45" stroke-linejoin="round" />
<circle cx="476.70" cy="658.00" r="0.45" fill="#444" stroke="none" stroke-width="0.00"/>
<rect x="476.40" y="635.80" width="26.10" height="12.65" fill="#ececec" stroke="#3a3a3a" stroke-width="0.55" rx="0.80"/>
<rect x="476.40" y="635.80" width="26.10" height="1.70" fill="#d8d8d8" stroke="#3a3a3a" stroke-width="0.45"/>
<rect x="476.70" y="648.45" width="25.50" height="12.15" fill="#ececec" stroke="#3a3a3a" stroke-width="0.55" rx="1.20"/>
<line x1="489.45" y1="637.50" x2="489.45" y2="660.60" stroke="#505050" stroke-width="0.45"/>
<rect x="476.90" y="639.80" width="1.40" height="3.80" fill="#fff" stroke="#3a3a3a" stroke-width="0.35" rx="0.70"/>
<line x1="478.80" y1="637.50" x2="478.80" y2="648.45" stroke="#666" stroke-width="0.35"/>
<text x="491.05" y="646.40" font-size="3.4" font-weight="bold" font-style="italic" text-anchor="middle" fill="#444" stroke="#444" stroke-width="0.3" textLength="10" lengthAdjust="spacingAndGlyphs" transform="translate(982.10 0) scale(-1 1)">TOYO</text>
<rect x="486.05" y="647.00" width="10.00" height="0.60" fill="#666" stroke="none" stroke-width="0.00"/>
<rect x="500.30" y="640.00" width="4.30" height="6.20" fill="#4a4a4a" stroke="#222" stroke-width="0.30"/>
<line x1="498.30" y1="637.50" x2="498.30" y2="648.45" stroke="#666" stroke-width="0.35"/>
<circle cx="479.10" cy="650.75" r="0.75" fill="#aaa" stroke="#444" stroke-width="0.30"/>
<circle cx="479.10" cy="658.20" r="0.75" fill="#aaa" stroke="#444" stroke-width="0.30"/>
<circle cx="499.80" cy="650.75" r="0.75" fill="#aaa" stroke="#444" stroke-width="0.30"/>
<circle cx="499.80" cy="658.20" r="0.75" fill="#aaa" stroke="#444" stroke-width="0.30"/>
</g>
<line x1="466.00" y1="635.80" x2="476.40" y2="635.80" stroke="#4a4a4a" stroke-width="0.45"/>
<line x1="466.00" y1="660.60" x2="476.40" y2="660.60" stroke="#4a4a4a" stroke-width="0.45"/>
<line x1="467.80" y1="635.80" x2="467.80" y2="660.60" stroke="#4a4a4a" stroke-width="0.45"/>
<polygon points="467.80,635.80 468.35,638.40 467.25,638.40" fill="#4a4a4a"/>
<polygon points="467.80,660.60 467.25,658.00 468.35,658.00" fill="#4a4a4a"/>
<text x="465.90" y="647.80" font-size="6.70" text-anchor="middle" font-weight="normal" fill="#3a3a3a" transform="rotate(-90 465.90 647.80)" >78</text>
<text x="426.00" y="659.20" font-size="6.60" text-anchor="start" font-weight="bold" fill="#222" >基準面</text>
<text x="426.00" y="665.20" font-size="5.60" text-anchor="start" font-weight="normal" fill="#9a9a9a" >The datum plane</text>
<line x1="425.40" y1="665.80" x2="471.70" y2="665.80" stroke="#4a4a4a" stroke-width="0.45"/>
<line x1="471.70" y1="665.80" x2="471.70" y2="661.40" stroke="#4a4a4a" stroke-width="0.45"/>
<polygon points="476.00,660.80 474.21,661.81 473.96,660.94" fill="#4a4a4a"/>
<line x1="471.70" y1="661.40" x2="475.00" y2="660.90" stroke="#4a4a4a" stroke-width="0.45"/>
<text x="505.00" y="687.60" font-size="6.40" text-anchor="middle" font-weight="normal" fill="#f7931e" letter-spacing="0.2" >C-C View</text>
<defs><pattern id="h712" width="5.4" height="5.4" patternUnits="userSpaceOnUse" patternTransform="rotate(26)"><line x1="1" y1="0" x2="1" y2="5.4" stroke="#505050" stroke-width="0.45"/></pattern></defs>
<path d="M479.60 712.10 H487.10 L488.10 713.10 V721.90 L489.70 723.30 H520.40 L522.00 721.90 V713.10 L523.00 712.10 H531.00 V734.50 L529.80 735.70 H480.80 L479.60 734.50 Z" fill="#e9e9e9" stroke="#3a3a3a" stroke-width="0.60" stroke-linejoin="round" />
<path d="M479.60 712.10 H487.10 L488.10 713.10 V721.90 L489.70 723.30 H520.40 L522.00 721.90 V713.10 L523.00 712.10 H531.00 V734.50 L529.80 735.70 H480.80 L479.60 734.50 Z" fill="url(#h712)" stroke="#3a3a3a" stroke-width="0.60" stroke-linejoin="round" />
<rect x="481.20" y="712.10" width="4.30" height="23.60" fill="#f3f3f3" stroke="#555" stroke-width="0.35"/>
<rect x="480.20" y="712.10" width="6.30" height="4.60" fill="#f3f3f3" stroke="#555" stroke-width="0.35"/>
<line x1="483.35" y1="710.60" x2="483.35" y2="737.20" stroke="#666" stroke-width="0.30" stroke-dasharray="3 1 1 1"/>
<rect x="524.80" y="712.10" width="4.40" height="23.60" fill="#f3f3f3" stroke="#555" stroke-width="0.35"/>
<rect x="523.80" y="712.10" width="6.40" height="4.60" fill="#f3f3f3" stroke="#555" stroke-width="0.35"/>
<line x1="527.00" y1="710.60" x2="527.00" y2="737.20" stroke="#666" stroke-width="0.30" stroke-dasharray="3 1 1 1"/>
<rect x="503.00" y="730.10" width="4.00" height="5.60" fill="#fff" stroke="#444" stroke-width="0.45"/>
<text x="504.60" y="696.20" font-size="6.70" text-anchor="middle" font-weight="normal" fill="#3a3a3a" >82</text>
<line x1="478.60" y1="697.60" x2="532.00" y2="697.60" stroke="#4a4a4a" stroke-width="0.45"/>
<polygon points="478.60,697.60 481.20,697.05 481.20,698.15" fill="#4a4a4a"/>
<polygon points="532.00,697.60 529.40,698.15 529.40,697.05" fill="#4a4a4a"/>
<line x1="478.60" y1="696.20" x2="478.60" y2="712.10" stroke="#4a4a4a" stroke-width="0.45"/>
<line x1="532.00" y1="696.20" x2="532.00" y2="712.10" stroke="#4a4a4a" stroke-width="0.45"/>
<text x="431.80" y="724.80" font-size="6.60" text-anchor="start" font-weight="bold" fill="#222" >基準面</text>
<text x="431.80" y="730.80" font-size="5.60" text-anchor="start" font-weight="normal" fill="#9a9a9a" >The datum plane</text>
<line x1="430.80" y1="732.50" x2="478.60" y2="732.50" stroke="#4a4a4a" stroke-width="0.45"/>
<polygon points="478.60,732.50 476.20,733.00 476.20,732.00" fill="#4a4a4a"/>
<text x="543.40" y="722.60" font-size="6.70" text-anchor="middle" font-weight="normal" fill="#3a3a3a" >9</text>
<line x1="542.30" y1="723.60" x2="542.30" y2="744.00" stroke="#4a4a4a" stroke-width="0.45"/>
<polygon points="542.30,730.30 541.75,727.70 542.85,727.70" fill="#4a4a4a"/>
<polygon points="542.30,735.70 542.85,738.30 541.75,738.30" fill="#4a4a4a"/>
<line x1="507.20" y1="730.30" x2="544.00" y2="730.30" stroke="#4a4a4a" stroke-width="0.45"/>
<line x1="532.00" y1="735.70" x2="544.00" y2="735.70" stroke="#4a4a4a" stroke-width="0.45"/>
<line x1="478.60" y1="735.70" x2="478.60" y2="745.40" stroke="#4a4a4a" stroke-width="0.45"/>
<line x1="505.40" y1="735.70" x2="505.40" y2="745.40" stroke="#4a4a4a" stroke-width="0.45"/>
<line x1="532.00" y1="735.70" x2="532.00" y2="745.40" stroke="#4a4a4a" stroke-width="0.45"/>
<line x1="478.60" y1="744.40" x2="532.00" y2="744.40" stroke="#4a4a4a" stroke-width="0.45"/>
<polygon points="478.60,744.40 481.20,743.85 481.20,744.95" fill="#4a4a4a"/>
<polygon points="505.40,744.40 502.80,744.95 502.80,743.85" fill="#4a4a4a"/>
<polygon points="505.40,744.40 508.00,743.85 508.00,744.95" fill="#4a4a4a"/>
<polygon points="532.00,744.40 529.40,744.95 529.40,743.85" fill="#4a4a4a"/>
<text x="492.30" y="742.90" font-size="6.00" text-anchor="middle" font-weight="normal" fill="#3a3a3a" textLength="24.5" lengthAdjust="spacingAndGlyphs">40.7±0.03</text>
<text x="518.20" y="742.90" font-size="6.70" text-anchor="middle" font-weight="normal" fill="#3a3a3a" >41</text>
<text x="182.30" y="710.20" font-size="6.50" text-anchor="start" font-weight="normal" fill="#29abe2" letter-spacing="0.3" >B View</text>
<rect x="190.00" y="733.00" width="7.80" height="6.20" fill="#f2f2f2" stroke="#3a3a3a" stroke-width="0.55" rx="3.10"/>
<line x1="190.80" y1="736.10" x2="197.00" y2="736.10" stroke="#777" stroke-width="0.30"/>
<text x="194.50" y="721.20" font-size="6.40" text-anchor="middle" font-weight="normal" fill="#3a3a3a" >7</text>
<line x1="190.00" y1="716.70" x2="190.00" y2="734.00" stroke="#4a4a4a" stroke-width="0.45"/>
<line x1="197.80" y1="716.70" x2="197.80" y2="734.00" stroke="#4a4a4a" stroke-width="0.45"/>
<line x1="183.80" y1="722.50" x2="202.80" y2="722.50" stroke="#4a4a4a" stroke-width="0.45"/>
<polygon points="190.00,722.50 187.40,723.05 187.40,721.95" fill="#4a4a4a"/>
<polygon points="197.80,722.50 200.40,721.95 200.40,723.05" fill="#4a4a4a"/>
<line x1="178.40" y1="726.50" x2="178.40" y2="745.70" stroke="#4a4a4a" stroke-width="0.45"/>
<polygon points="178.40,733.00 177.85,730.40 178.95,730.40" fill="#4a4a4a"/>
<polygon points="178.40,739.20 178.95,741.80 177.85,741.80" fill="#4a4a4a"/>
<line x1="177.20" y1="733.00" x2="192.00" y2="733.00" stroke="#4a4a4a" stroke-width="0.45"/>
<line x1="177.20" y1="739.20" x2="192.00" y2="739.20" stroke="#4a4a4a" stroke-width="0.45"/>
<text x="171.80" y="748.60" font-size="6.40" text-anchor="start" font-weight="normal" fill="#3a3a3a" transform="rotate(-90 171.80 748.60)" >5</text>
<text x="171.60" y="743.70" font-size="6.00" text-anchor="start" font-weight="normal" fill="#3a3a3a" transform="rotate(-90 171.60 743.70)" >+0.012</text>
<text x="176.20" y="738.70" font-size="6.00" text-anchor="start" font-weight="normal" fill="#3a3a3a" transform="rotate(-90 176.20 738.70)" >0</text>
<rect x="81.90" y="764.80" width="492.30" height="14.60" fill="#ea635a"/>
<line x1="120.10" y1="764.80" x2="120.10" y2="779.40" stroke="#8a2f2a" stroke-width="0.45"/>
<line x1="140.74" y1="764.80" x2="140.74" y2="779.40" stroke="#8a2f2a" stroke-width="0.45"/>
<line x1="161.38" y1="764.80" x2="161.38" y2="779.40" stroke="#8a2f2a" stroke-width="0.45"/>
<line x1="182.02" y1="764.80" x2="182.02" y2="779.40" stroke="#8a2f2a" stroke-width="0.45"/>
<line x1="202.66" y1="764.80" x2="202.66" y2="779.40" stroke="#8a2f2a" stroke-width="0.45"/>
<line x1="223.30" y1="764.80" x2="223.30" y2="779.40" stroke="#8a2f2a" stroke-width="0.45"/>
<line x1="243.95" y1="764.80" x2="243.95" y2="779.40" stroke="#8a2f2a" stroke-width="0.45"/>
<line x1="264.59" y1="764.80" x2="264.59" y2="779.40" stroke="#8a2f2a" stroke-width="0.45"/>
<line x1="285.23" y1="764.80" x2="285.23" y2="779.40" stroke="#8a2f2a" stroke-width="0.45"/>
<line x1="305.87" y1="764.80" x2="305.87" y2="779.40" stroke="#8a2f2a" stroke-width="0.45"/>
<line x1="326.51" y1="764.80" x2="326.51" y2="779.40" stroke="#8a2f2a" stroke-width="0.45"/>
<line x1="347.15" y1="764.80" x2="347.15" y2="779.40" stroke="#8a2f2a" stroke-width="0.45"/>
<line x1="367.79" y1="764.80" x2="367.79" y2="779.40" stroke="#8a2f2a" stroke-width="0.45"/>
<line x1="388.43" y1="764.80" x2="388.43" y2="779.40" stroke="#8a2f2a" stroke-width="0.45"/>
<line x1="409.07" y1="764.80" x2="409.07" y2="779.40" stroke="#8a2f2a" stroke-width="0.45"/>
<line x1="429.71" y1="764.80" x2="429.71" y2="779.40" stroke="#8a2f2a" stroke-width="0.45"/>
<line x1="450.35" y1="764.80" x2="450.35" y2="779.40" stroke="#8a2f2a" stroke-width="0.45"/>
<line x1="471.00" y1="764.80" x2="471.00" y2="779.40" stroke="#8a2f2a" stroke-width="0.45"/>
<line x1="491.64" y1="764.80" x2="491.64" y2="779.40" stroke="#8a2f2a" stroke-width="0.45"/>
<line x1="512.28" y1="764.80" x2="512.28" y2="779.40" stroke="#8a2f2a" stroke-width="0.45"/>
<line x1="532.92" y1="764.80" x2="532.92" y2="779.40" stroke="#8a2f2a" stroke-width="0.45"/>
<line x1="553.56" y1="764.80" x2="553.56" y2="779.40" stroke="#8a2f2a" stroke-width="0.45"/>
<text x="100.80" y="771.70" font-size="6.90" text-anchor="middle" font-weight="bold" fill="#fff" >有效行程</text>
<text x="100.80" y="777.70" font-size="6.20" text-anchor="middle" font-weight="normal" fill="#fbcfca" >Stroke</text>
<text x="127.72" y="774.80" font-size="6.20" text-anchor="middle" font-weight="normal" fill="#fff" >50</text>
<text x="134.62" y="771.00" font-size="3.40" text-anchor="middle" font-weight="normal" fill="#fde0dc" >※</text>
<text x="151.06" y="774.80" font-size="6.20" text-anchor="middle" font-weight="normal" fill="#fff" >100</text>
<text x="171.70" y="774.80" font-size="6.20" text-anchor="middle" font-weight="normal" fill="#fff" >150</text>
<text x="192.34" y="774.80" font-size="6.20" text-anchor="middle" font-weight="normal" fill="#fff" >200</text>
<text x="212.98" y="774.80" font-size="6.20" text-anchor="middle" font-weight="normal" fill="#fff" >250</text>
<text x="233.62" y="774.80" font-size="6.20" text-anchor="middle" font-weight="normal" fill="#fff" >300</text>
<text x="254.27" y="774.80" font-size="6.20" text-anchor="middle" font-weight="normal" fill="#fff" >350</text>
<text x="274.91" y="774.80" font-size="6.20" text-anchor="middle" font-weight="normal" fill="#fff" >400</text>
<text x="295.55" y="774.80" font-size="6.20" text-anchor="middle" font-weight="normal" fill="#fff" >450</text>
<text x="316.19" y="774.80" font-size="6.20" text-anchor="middle" font-weight="normal" fill="#fff" >500</text>
<text x="336.83" y="774.80" font-size="6.20" text-anchor="middle" font-weight="normal" fill="#fff" >550</text>
<text x="357.47" y="774.80" font-size="6.20" text-anchor="middle" font-weight="normal" fill="#fff" >600</text>
<text x="378.11" y="774.80" font-size="6.20" text-anchor="middle" font-weight="normal" fill="#fff" >650</text>
<text x="398.75" y="774.80" font-size="6.20" text-anchor="middle" font-weight="normal" fill="#fff" >700</text>
<text x="419.39" y="774.80" font-size="6.20" text-anchor="middle" font-weight="normal" fill="#fff" >750</text>
<text x="440.03" y="774.80" font-size="6.20" text-anchor="middle" font-weight="normal" fill="#fff" >800</text>
<text x="460.68" y="774.80" font-size="6.20" text-anchor="middle" font-weight="normal" fill="#fff" >850</text>
<text x="481.32" y="774.80" font-size="6.20" text-anchor="middle" font-weight="normal" fill="#fff" >900</text>
<text x="501.96" y="774.80" font-size="6.20" text-anchor="middle" font-weight="normal" fill="#fff" >950</text>
<text x="522.60" y="774.80" font-size="6.20" text-anchor="middle" font-weight="normal" fill="#fff" >1000</text>
<text x="543.24" y="774.80" font-size="6.20" text-anchor="middle" font-weight="normal" fill="#fff" >1050</text>
<text x="563.88" y="774.80" font-size="6.20" text-anchor="middle" font-weight="normal" fill="#fff" >1100</text>
<rect x="81.90" y="779.90" width="38.20" height="49.98" fill="#fbe4d8"/>
<line x1="120.10" y1="779.90" x2="120.10" y2="829.88" stroke="#9a9a9a" stroke-width="0.45"/>
<line x1="140.74" y1="779.90" x2="140.74" y2="829.88" stroke="#9a9a9a" stroke-width="0.45"/>
<line x1="161.38" y1="779.90" x2="161.38" y2="829.88" stroke="#9a9a9a" stroke-width="0.45"/>
<line x1="182.02" y1="779.90" x2="182.02" y2="829.88" stroke="#9a9a9a" stroke-width="0.45"/>
<line x1="202.66" y1="779.90" x2="202.66" y2="829.88" stroke="#9a9a9a" stroke-width="0.45"/>
<line x1="223.30" y1="779.90" x2="223.30" y2="829.88" stroke="#9a9a9a" stroke-width="0.45"/>
<line x1="243.95" y1="779.90" x2="243.95" y2="829.88" stroke="#9a9a9a" stroke-width="0.45"/>
<line x1="264.59" y1="779.90" x2="264.59" y2="829.88" stroke="#9a9a9a" stroke-width="0.45"/>
<line x1="285.23" y1="779.90" x2="285.23" y2="829.88" stroke="#9a9a9a" stroke-width="0.45"/>
<line x1="305.87" y1="779.90" x2="305.87" y2="829.88" stroke="#9a9a9a" stroke-width="0.45"/>
<line x1="326.51" y1="779.90" x2="326.51" y2="829.88" stroke="#9a9a9a" stroke-width="0.45"/>
<line x1="347.15" y1="779.90" x2="347.15" y2="829.88" stroke="#9a9a9a" stroke-width="0.45"/>
<line x1="367.79" y1="779.90" x2="367.79" y2="829.88" stroke="#9a9a9a" stroke-width="0.45"/>
<line x1="388.43" y1="779.90" x2="388.43" y2="829.88" stroke="#9a9a9a" stroke-width="0.45"/>
<line x1="409.07" y1="779.90" x2="409.07" y2="829.88" stroke="#9a9a9a" stroke-width="0.45"/>
<line x1="429.71" y1="779.90" x2="429.71" y2="829.88" stroke="#9a9a9a" stroke-width="0.45"/>
<line x1="450.35" y1="779.90" x2="450.35" y2="829.88" stroke="#9a9a9a" stroke-width="0.45"/>
<line x1="471.00" y1="779.90" x2="471.00" y2="829.88" stroke="#9a9a9a" stroke-width="0.45"/>
<line x1="491.64" y1="779.90" x2="491.64" y2="829.88" stroke="#9a9a9a" stroke-width="0.45"/>
<line x1="512.28" y1="779.90" x2="512.28" y2="829.88" stroke="#9a9a9a" stroke-width="0.45"/>
<line x1="532.92" y1="779.90" x2="532.92" y2="829.88" stroke="#9a9a9a" stroke-width="0.45"/>
<line x1="553.56" y1="779.90" x2="553.56" y2="829.88" stroke="#9a9a9a" stroke-width="0.45"/>
<line x1="574.20" y1="779.90" x2="574.20" y2="829.88" stroke="#9a9a9a" stroke-width="0.45"/>
<line x1="81.90" y1="779.90" x2="574.20" y2="779.90" stroke="#3a3a3a" stroke-width="0.75"/>
<text x="101.00" y="786.20" font-size="6.00" text-anchor="middle" font-weight="normal" fill="#222" >L</text>
<text x="130.42" y="786.20" font-size="6.00" text-anchor="middle" font-weight="normal" fill="#222" >314.5</text>
<text x="151.06" y="786.20" font-size="6.00" text-anchor="middle" font-weight="normal" fill="#222" >364.5</text>
<text x="171.70" y="786.20" font-size="6.00" text-anchor="middle" font-weight="normal" fill="#222" >414.5</text>
<text x="192.34" y="786.20" font-size="6.00" text-anchor="middle" font-weight="normal" fill="#222" >464.5</text>
<text x="212.98" y="786.20" font-size="6.00" text-anchor="middle" font-weight="normal" fill="#222" >514.5</text>
<text x="233.62" y="786.20" font-size="6.00" text-anchor="middle" font-weight="normal" fill="#222" >564.5</text>
<text x="254.27" y="786.20" font-size="6.00" text-anchor="middle" font-weight="normal" fill="#222" >614.5</text>
<text x="274.91" y="786.20" font-size="6.00" text-anchor="middle" font-weight="normal" fill="#222" >664.5</text>
<text x="295.55" y="786.20" font-size="6.00" text-anchor="middle" font-weight="normal" fill="#222" >714.5</text>
<text x="316.19" y="786.20" font-size="6.00" text-anchor="middle" font-weight="normal" fill="#222" >764.5</text>
<text x="336.83" y="786.20" font-size="6.00" text-anchor="middle" font-weight="normal" fill="#222" >814.5</text>
<text x="357.47" y="786.20" font-size="6.00" text-anchor="middle" font-weight="normal" fill="#222" >864.5</text>
<text x="378.11" y="786.20" font-size="6.00" text-anchor="middle" font-weight="normal" fill="#222" >914.5</text>
<text x="398.75" y="786.20" font-size="6.00" text-anchor="middle" font-weight="normal" fill="#222" >964.5</text>
<text x="419.39" y="786.20" font-size="6.00" text-anchor="middle" font-weight="normal" fill="#222" textLength="19.4" lengthAdjust="spacingAndGlyphs">1014.5</text>
<text x="440.03" y="786.20" font-size="6.00" text-anchor="middle" font-weight="normal" fill="#222" textLength="19.4" lengthAdjust="spacingAndGlyphs">1064.5</text>
<text x="460.68" y="786.20" font-size="6.00" text-anchor="middle" font-weight="normal" fill="#222" textLength="19.4" lengthAdjust="spacingAndGlyphs">1114.5</text>
<text x="481.32" y="786.20" font-size="6.00" text-anchor="middle" font-weight="normal" fill="#222" textLength="19.4" lengthAdjust="spacingAndGlyphs">1164.5</text>
<text x="501.96" y="786.20" font-size="6.00" text-anchor="middle" font-weight="normal" fill="#222" textLength="19.4" lengthAdjust="spacingAndGlyphs">1214.5</text>
<text x="522.60" y="786.20" font-size="6.00" text-anchor="middle" font-weight="normal" fill="#222" textLength="19.4" lengthAdjust="spacingAndGlyphs">1264.5</text>
<text x="543.24" y="786.20" font-size="6.00" text-anchor="middle" font-weight="normal" fill="#222" textLength="19.4" lengthAdjust="spacingAndGlyphs">1314.5</text>
<text x="563.88" y="786.20" font-size="6.00" text-anchor="middle" font-weight="normal" fill="#222" textLength="19.4" lengthAdjust="spacingAndGlyphs">1364.5</text>
<line x1="81.90" y1="788.23" x2="574.20" y2="788.23" stroke="#3a3a3a" stroke-width="0.75"/>
<text x="101.00" y="794.53" font-size="6.00" text-anchor="middle" font-weight="normal" fill="#222" >A</text>
<text x="130.42" y="794.53" font-size="6.00" text-anchor="middle" font-weight="normal" fill="#222" >50</text>
<text x="151.06" y="794.53" font-size="6.00" text-anchor="middle" font-weight="normal" fill="#222" >100</text>
<text x="171.70" y="794.53" font-size="6.00" text-anchor="middle" font-weight="normal" fill="#222" >50</text>
<text x="192.34" y="794.53" font-size="6.00" text-anchor="middle" font-weight="normal" fill="#222" >100</text>
<text x="212.98" y="794.53" font-size="6.00" text-anchor="middle" font-weight="normal" fill="#222" >50</text>
<text x="233.62" y="794.53" font-size="6.00" text-anchor="middle" font-weight="normal" fill="#222" >100</text>
<text x="254.27" y="794.53" font-size="6.00" text-anchor="middle" font-weight="normal" fill="#222" >50</text>
<text x="274.91" y="794.53" font-size="6.00" text-anchor="middle" font-weight="normal" fill="#222" >100</text>
<text x="295.55" y="794.53" font-size="6.00" text-anchor="middle" font-weight="normal" fill="#222" >50</text>
<text x="316.19" y="794.53" font-size="6.00" text-anchor="middle" font-weight="normal" fill="#222" >100</text>
<text x="336.83" y="794.53" font-size="6.00" text-anchor="middle" font-weight="normal" fill="#222" >50</text>
<text x="357.47" y="794.53" font-size="6.00" text-anchor="middle" font-weight="normal" fill="#222" >100</text>
<text x="378.11" y="794.53" font-size="6.00" text-anchor="middle" font-weight="normal" fill="#222" >50</text>
<text x="398.75" y="794.53" font-size="6.00" text-anchor="middle" font-weight="normal" fill="#222" >100</text>
<text x="419.39" y="794.53" font-size="6.00" text-anchor="middle" font-weight="normal" fill="#222" >50</text>
<text x="440.03" y="794.53" font-size="6.00" text-anchor="middle" font-weight="normal" fill="#222" >100</text>
<text x="460.68" y="794.53" font-size="6.00" text-anchor="middle" font-weight="normal" fill="#222" >50</text>
<text x="481.32" y="794.53" font-size="6.00" text-anchor="middle" font-weight="normal" fill="#222" >100</text>
<text x="501.96" y="794.53" font-size="6.00" text-anchor="middle" font-weight="normal" fill="#222" >50</text>
<text x="522.60" y="794.53" font-size="6.00" text-anchor="middle" font-weight="normal" fill="#222" >100</text>
<text x="543.24" y="794.53" font-size="6.00" text-anchor="middle" font-weight="normal" fill="#222" >50</text>
<text x="563.88" y="794.53" font-size="6.00" text-anchor="middle" font-weight="normal" fill="#222" >100</text>
<line x1="81.90" y1="796.56" x2="574.20" y2="796.56" stroke="#3a3a3a" stroke-width="0.75"/>
<text x="101.00" y="802.86" font-size="6.00" text-anchor="middle" font-weight="normal" fill="#222" >M</text>
<text x="130.42" y="802.86" font-size="6.00" text-anchor="middle" font-weight="normal" fill="#222" >1</text>
<text x="151.06" y="802.86" font-size="6.00" text-anchor="middle" font-weight="normal" fill="#222" >1</text>
<text x="171.70" y="802.86" font-size="6.00" text-anchor="middle" font-weight="normal" fill="#222" >2</text>
<text x="192.34" y="802.86" font-size="6.00" text-anchor="middle" font-weight="normal" fill="#222" >2</text>
<text x="212.98" y="802.86" font-size="6.00" text-anchor="middle" font-weight="normal" fill="#222" >3</text>
<text x="233.62" y="802.86" font-size="6.00" text-anchor="middle" font-weight="normal" fill="#222" >3</text>
<text x="254.27" y="802.86" font-size="6.00" text-anchor="middle" font-weight="normal" fill="#222" >4</text>
<text x="274.91" y="802.86" font-size="6.00" text-anchor="middle" font-weight="normal" fill="#222" >4</text>
<text x="295.55" y="802.86" font-size="6.00" text-anchor="middle" font-weight="normal" fill="#222" >5</text>
<text x="316.19" y="802.86" font-size="6.00" text-anchor="middle" font-weight="normal" fill="#222" >5</text>
<text x="336.83" y="802.86" font-size="6.00" text-anchor="middle" font-weight="normal" fill="#222" >6</text>
<text x="357.47" y="802.86" font-size="6.00" text-anchor="middle" font-weight="normal" fill="#222" >6</text>
<text x="378.11" y="802.86" font-size="6.00" text-anchor="middle" font-weight="normal" fill="#222" >7</text>
<text x="398.75" y="802.86" font-size="6.00" text-anchor="middle" font-weight="normal" fill="#222" >7</text>
<text x="419.39" y="802.86" font-size="6.00" text-anchor="middle" font-weight="normal" fill="#222" >8</text>
<text x="440.03" y="802.86" font-size="6.00" text-anchor="middle" font-weight="normal" fill="#222" >8</text>
<text x="460.68" y="802.86" font-size="6.00" text-anchor="middle" font-weight="normal" fill="#222" >9</text>
<text x="481.32" y="802.86" font-size="6.00" text-anchor="middle" font-weight="normal" fill="#222" >9</text>
<text x="501.96" y="802.86" font-size="6.00" text-anchor="middle" font-weight="normal" fill="#222" >10</text>
<text x="522.60" y="802.86" font-size="6.00" text-anchor="middle" font-weight="normal" fill="#222" >10</text>
<text x="543.24" y="802.86" font-size="6.00" text-anchor="middle" font-weight="normal" fill="#222" >11</text>
<text x="563.88" y="802.86" font-size="6.00" text-anchor="middle" font-weight="normal" fill="#222" >11</text>
<line x1="81.90" y1="804.89" x2="574.20" y2="804.89" stroke="#3a3a3a" stroke-width="0.75"/>
<text x="101.00" y="811.19" font-size="6.00" text-anchor="middle" font-weight="normal" fill="#222" >N</text>
<text x="130.42" y="811.19" font-size="6.00" text-anchor="middle" font-weight="normal" fill="#222" >6</text>
<text x="151.06" y="811.19" font-size="6.00" text-anchor="middle" font-weight="normal" fill="#222" >6</text>
<text x="171.70" y="811.19" font-size="6.00" text-anchor="middle" font-weight="normal" fill="#222" >8</text>
<text x="192.34" y="811.19" font-size="6.00" text-anchor="middle" font-weight="normal" fill="#222" >8</text>
<text x="212.98" y="811.19" font-size="6.00" text-anchor="middle" font-weight="normal" fill="#222" >10</text>
<text x="233.62" y="811.19" font-size="6.00" text-anchor="middle" font-weight="normal" fill="#222" >10</text>
<text x="254.27" y="811.19" font-size="6.00" text-anchor="middle" font-weight="normal" fill="#222" >12</text>
<text x="274.91" y="811.19" font-size="6.00" text-anchor="middle" font-weight="normal" fill="#222" >12</text>
<text x="295.55" y="811.19" font-size="6.00" text-anchor="middle" font-weight="normal" fill="#222" >14</text>
<text x="316.19" y="811.19" font-size="6.00" text-anchor="middle" font-weight="normal" fill="#222" >14</text>
<text x="336.83" y="811.19" font-size="6.00" text-anchor="middle" font-weight="normal" fill="#222" >16</text>
<text x="357.47" y="811.19" font-size="6.00" text-anchor="middle" font-weight="normal" fill="#222" >16</text>
<text x="378.11" y="811.19" font-size="6.00" text-anchor="middle" font-weight="normal" fill="#222" >18</text>
<text x="398.75" y="811.19" font-size="6.00" text-anchor="middle" font-weight="normal" fill="#222" >18</text>
<text x="419.39" y="811.19" font-size="6.00" text-anchor="middle" font-weight="normal" fill="#222" >20</text>
<text x="440.03" y="811.19" font-size="6.00" text-anchor="middle" font-weight="normal" fill="#222" >20</text>
<text x="460.68" y="811.19" font-size="6.00" text-anchor="middle" font-weight="normal" fill="#222" >22</text>
<text x="481.32" y="811.19" font-size="6.00" text-anchor="middle" font-weight="normal" fill="#222" >22</text>
<text x="501.96" y="811.19" font-size="6.00" text-anchor="middle" font-weight="normal" fill="#222" >24</text>
<text x="522.60" y="811.19" font-size="6.00" text-anchor="middle" font-weight="normal" fill="#222" >24</text>
<text x="543.24" y="811.19" font-size="6.00" text-anchor="middle" font-weight="normal" fill="#222" >26</text>
<text x="563.88" y="811.19" font-size="6.00" text-anchor="middle" font-weight="normal" fill="#222" >26</text>
<line x1="81.90" y1="813.22" x2="574.20" y2="813.22" stroke="#3a3a3a" stroke-width="0.75"/>
<text x="101.00" y="819.52" font-size="6.00" text-anchor="middle" font-weight="normal" fill="#222" >P</text>
<text x="130.42" y="819.52" font-size="6.00" text-anchor="middle" font-weight="normal" fill="#222" >50</text>
<text x="151.06" y="819.52" font-size="6.00" text-anchor="middle" font-weight="normal" fill="#222" >100</text>
<text x="171.70" y="819.52" font-size="6.00" text-anchor="middle" font-weight="normal" fill="#222" >150</text>
<text x="192.34" y="819.52" font-size="6.00" text-anchor="middle" font-weight="normal" fill="#222" >200</text>
<text x="212.98" y="819.52" font-size="6.00" text-anchor="middle" font-weight="normal" fill="#222" >250</text>
<text x="233.62" y="819.52" font-size="6.00" text-anchor="middle" font-weight="normal" fill="#222" >300</text>
<text x="254.27" y="819.52" font-size="6.00" text-anchor="middle" font-weight="normal" fill="#222" >350</text>
<text x="274.91" y="819.52" font-size="6.00" text-anchor="middle" font-weight="normal" fill="#222" >400</text>
<text x="295.55" y="819.52" font-size="6.00" text-anchor="middle" font-weight="normal" fill="#222" >450</text>
<text x="316.19" y="819.52" font-size="6.00" text-anchor="middle" font-weight="normal" fill="#222" >500</text>
<text x="336.83" y="819.52" font-size="6.00" text-anchor="middle" font-weight="normal" fill="#222" >550</text>
<text x="357.47" y="819.52" font-size="6.00" text-anchor="middle" font-weight="normal" fill="#222" >600</text>
<text x="378.11" y="819.52" font-size="6.00" text-anchor="middle" font-weight="normal" fill="#222" >650</text>
<text x="398.75" y="819.52" font-size="6.00" text-anchor="middle" font-weight="normal" fill="#222" >700</text>
<text x="419.39" y="819.52" font-size="6.00" text-anchor="middle" font-weight="normal" fill="#222" >750</text>
<text x="440.03" y="819.52" font-size="6.00" text-anchor="middle" font-weight="normal" fill="#222" >800</text>
<text x="460.68" y="819.52" font-size="6.00" text-anchor="middle" font-weight="normal" fill="#222" >850</text>
<text x="481.32" y="819.52" font-size="6.00" text-anchor="middle" font-weight="normal" fill="#222" >900</text>
<text x="501.96" y="819.52" font-size="6.00" text-anchor="middle" font-weight="normal" fill="#222" >950</text>
<text x="522.60" y="819.52" font-size="6.00" text-anchor="middle" font-weight="normal" fill="#222" >1000</text>
<text x="543.24" y="819.52" font-size="6.00" text-anchor="middle" font-weight="normal" fill="#222" >1050</text>
<text x="563.88" y="819.52" font-size="6.00" text-anchor="middle" font-weight="normal" fill="#222" >1100</text>
<line x1="81.90" y1="821.55" x2="574.20" y2="821.55" stroke="#3a3a3a" stroke-width="0.75"/>
<text x="101.00" y="827.85" font-size="6.00" text-anchor="middle" font-weight="normal" fill="#222" >KG</text>
<text x="130.42" y="827.85" font-size="6.00" text-anchor="middle" font-weight="normal" fill="#222" >3.95</text>
<text x="151.06" y="827.85" font-size="6.00" text-anchor="middle" font-weight="normal" fill="#222" >4.33</text>
<text x="171.70" y="827.85" font-size="6.00" text-anchor="middle" font-weight="normal" fill="#222" >4.74</text>
<text x="192.34" y="827.85" font-size="6.00" text-anchor="middle" font-weight="normal" fill="#222" >5.09</text>
<text x="212.98" y="827.85" font-size="6.00" text-anchor="middle" font-weight="normal" fill="#222" >5.39</text>
<text x="233.62" y="827.85" font-size="6.00" text-anchor="middle" font-weight="normal" fill="#222" >5.72</text>
<text x="254.27" y="827.85" font-size="6.00" text-anchor="middle" font-weight="normal" fill="#222" >6.04</text>
<text x="274.91" y="827.85" font-size="6.00" text-anchor="middle" font-weight="normal" fill="#222" >6.39</text>
<text x="295.55" y="827.85" font-size="6.00" text-anchor="middle" font-weight="normal" fill="#222" >6.68</text>
<text x="316.19" y="827.85" font-size="6.00" text-anchor="middle" font-weight="normal" fill="#222" >7.01</text>
<text x="336.83" y="827.85" font-size="6.00" text-anchor="middle" font-weight="normal" fill="#222" >7.45</text>
<text x="357.47" y="827.85" font-size="6.00" text-anchor="middle" font-weight="normal" fill="#222" >7.75</text>
<text x="378.11" y="827.85" font-size="6.00" text-anchor="middle" font-weight="normal" fill="#222" >8.16</text>
<text x="398.75" y="827.85" font-size="6.00" text-anchor="middle" font-weight="normal" fill="#222" >8.45</text>
<text x="419.39" y="827.85" font-size="6.00" text-anchor="middle" font-weight="normal" fill="#222" >8.69</text>
<text x="440.03" y="827.85" font-size="6.00" text-anchor="middle" font-weight="normal" fill="#222" >9.00</text>
<text x="460.68" y="827.85" font-size="6.00" text-anchor="middle" font-weight="normal" fill="#222" >9.41</text>
<text x="481.32" y="827.85" font-size="6.00" text-anchor="middle" font-weight="normal" fill="#222" >9.66</text>
<text x="501.96" y="827.85" font-size="6.00" text-anchor="middle" font-weight="normal" fill="#222" >10.08</text>
<text x="522.60" y="827.85" font-size="6.00" text-anchor="middle" font-weight="normal" fill="#222" >10.32</text>
<text x="543.24" y="827.85" font-size="6.00" text-anchor="middle" font-weight="normal" fill="#222" >10.74</text>
<text x="563.88" y="827.85" font-size="6.00" text-anchor="middle" font-weight="normal" fill="#222" >11.16</text>
<line x1="81.90" y1="829.78" x2="574.20" y2="829.78" stroke="#3a3a3a" stroke-width="0.85"/>
</svg>
</div></body></html>
